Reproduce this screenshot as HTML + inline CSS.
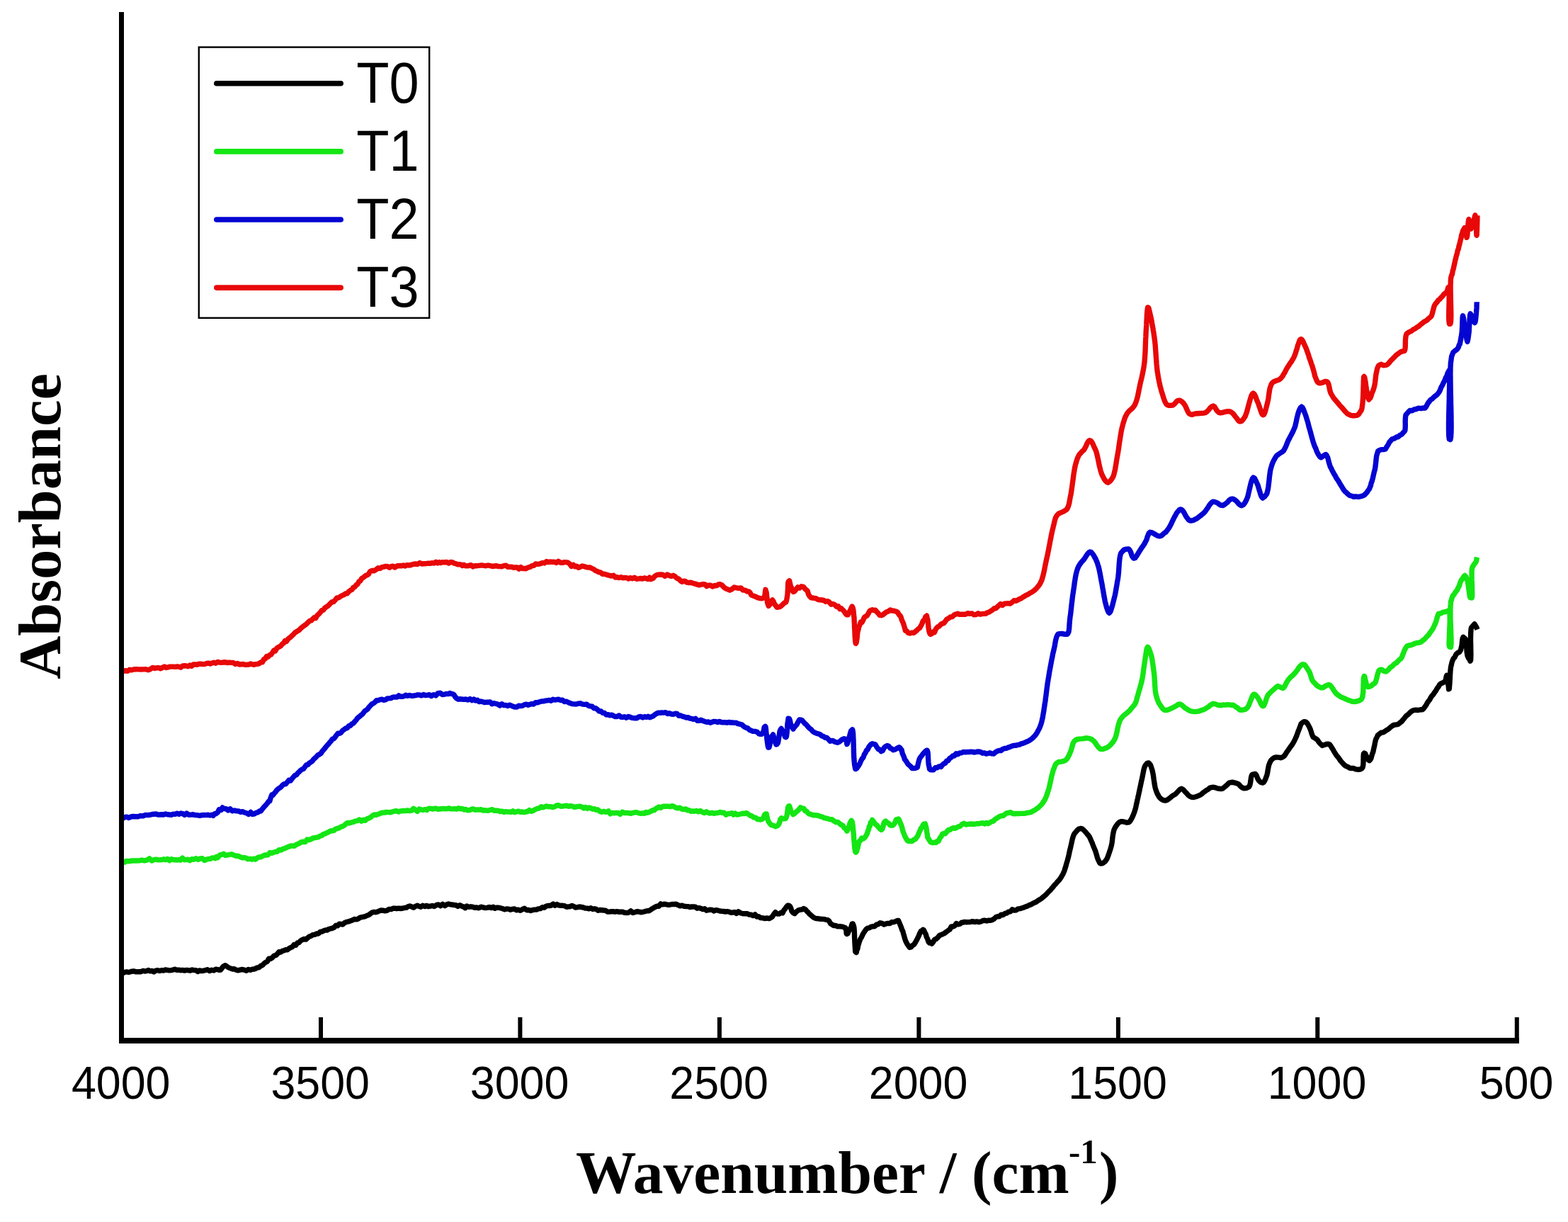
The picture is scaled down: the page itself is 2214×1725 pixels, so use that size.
<!DOCTYPE html>
<html><head><meta charset="utf-8"><title>FTIR spectra</title><style>html,body{margin:0;padding:0;background:#fff;width:2214px;height:1725px;overflow:hidden}svg{display:block}</style></head><body><svg width="2214" height="1725" viewBox="0 0 2214 1725"><rect width="2214" height="1725" fill="#ffffff"/><g fill="none" stroke-width="7.4" stroke-linejoin="round" stroke-linecap="butt"><polyline stroke="#000000" points="172.6,1374.2 173.0,1374.3 174.3,1373.1 176.2,1372.3 178.8,1371.9 181.7,1372.5 185.0,1371.5 188.5,1370.9 192.1,1371.9 195.6,1371.6 199.0,1371.7 202.1,1370.4 204.5,1371.0 207.0,1370.7 209.5,1369.5 212.1,1370.9 214.7,1370.5 217.3,1371.9 220.0,1370.1 222.7,1369.7 225.4,1370.6 228.1,1369.7 230.8,1370.1 233.5,1369.0 236.2,1369.4 238.9,1369.9 241.6,1369.6 244.2,1369.1 246.9,1368.2 249.5,1369.3 252.3,1369.1 255.0,1369.7 257.7,1369.4 260.5,1370.1 263.2,1369.4 266.0,1369.7 268.7,1370.2 271.4,1369.0 274.0,1369.6 276.6,1369.6 279.2,1371.5 281.6,1370.0 284.1,1370.5 286.4,1370.5 289.6,1369.7 292.8,1368.7 295.9,1370.5 299.0,1369.3 302.0,1370.0 304.7,1368.2 307.3,1368.6 309.6,1369.4 311.6,1369.0 315.0,1364.5 318.0,1362.7 320.3,1364.1 322.7,1365.9 325.4,1366.9 328.5,1368.1 330.7,1367.6 333.3,1369.2 336.0,1369.9 338.9,1369.1 342.0,1368.5 345.0,1369.2 348.0,1370.3 350.8,1368.4 353.5,1369.3 355.9,1368.3 358.7,1368.1 361.2,1367.0 363.5,1366.0 365.8,1365.7 368.1,1363.5 370.6,1362.6 372.8,1360.1 375.1,1358.3 377.4,1357.3 379.7,1353.1 382.1,1353.5 384.5,1351.9 386.9,1349.1 389.3,1348.7 391.7,1346.5 394.0,1343.7 396.4,1344.2 398.7,1342.4 401.1,1341.7 403.5,1340.8 405.9,1340.8 408.2,1338.8 410.5,1337.6 412.7,1336.7 415.2,1333.6 417.6,1334.3 419.9,1331.0 422.2,1330.6 424.5,1327.9 427.0,1326.5 429.6,1325.5 431.9,1326.1 434.2,1324.1 436.7,1322.1 439.2,1321.3 441.7,1319.6 444.3,1319.4 446.9,1318.0 449.6,1318.0 452.2,1315.4 454.9,1315.0 457.2,1313.7 459.6,1312.9 461.9,1313.0 464.3,1311.5 466.8,1310.9 469.2,1310.3 471.7,1309.3 474.2,1306.4 476.6,1306.9 479.1,1304.2 481.6,1304.5 484.1,1305.0 486.5,1302.6 489.2,1301.5 491.9,1300.9 494.7,1299.9 497.5,1298.9 500.3,1297.4 503.1,1297.9 505.9,1296.9 508.5,1295.2 511.1,1294.7 513.6,1294.2 515.9,1293.6 518.0,1292.4 520.8,1291.5 523.2,1289.6 525.5,1288.0 527.9,1287.4 530.7,1287.7 532.9,1287.1 535.3,1286.0 538.0,1285.0 540.7,1285.2 543.5,1285.9 546.4,1285.3 549.3,1283.4 552.2,1283.6 555.0,1282.2 557.7,1282.1 560.2,1282.7 563.0,1282.2 565.7,1282.5 568.4,1282.2 571.0,1281.5 573.6,1281.4 576.1,1279.7 578.6,1278.9 581.2,1279.9 583.9,1281.3 586.4,1279.5 589.0,1278.3 591.5,1279.3 594.2,1280.2 597.0,1278.3 600.0,1279.6 602.3,1278.4 604.9,1279.7 607.6,1279.1 610.4,1278.5 613.3,1279.5 616.3,1277.5 619.2,1277.0 622.2,1278.7 625.1,1276.4 628.0,1278.6 630.7,1276.8 633.3,1276.0 635.7,1276.8 637.9,1277.0 641.2,1277.5 643.9,1277.8 646.5,1279.5 649.3,1277.7 652.7,1279.6 654.7,1280.0 656.9,1281.7 659.3,1279.0 661.9,1280.3 664.5,1279.8 667.3,1280.2 670.2,1281.2 673.1,1281.0 676.1,1281.8 679.1,1280.2 682.1,1280.9 685.1,1281.6 688.0,1281.4 690.9,1280.5 693.6,1281.6 696.3,1280.2 698.8,1282.3 701.1,1281.2 704.3,1281.3 707.2,1281.9 710.0,1282.8 712.7,1283.9 715.4,1282.9 718.0,1283.1 720.7,1284.2 723.5,1283.4 726.4,1282.9 729.1,1284.9 731.8,1284.1 734.7,1285.3 737.6,1283.7 740.5,1282.3 743.5,1284.7 746.4,1284.5 749.3,1285.5 752.2,1284.5 754.9,1284.1 757.6,1284.0 760.1,1282.9 763.0,1282.6 765.8,1280.7 768.4,1281.2 771.0,1279.2 773.5,1278.5 776.0,1278.5 778.5,1278.0 781.1,1276.1 783.8,1278.3 786.4,1276.5 789.0,1277.9 791.7,1278.4 794.3,1278.3 797.1,1278.7 800.1,1280.3 802.5,1279.9 804.9,1279.8 807.4,1278.4 810.0,1279.4 812.7,1281.1 815.4,1280.6 818.1,1280.0 820.9,1280.5 823.6,1281.0 826.3,1282.0 829.0,1282.1 831.7,1282.8 834.3,1281.8 836.9,1283.5 839.4,1282.8 841.9,1283.4 844.5,1285.3 847.0,1284.5 849.6,1284.7 852.2,1285.0 854.8,1285.2 857.6,1287.0 860.4,1287.1 863.3,1286.8 865.7,1286.6 868.2,1287.3 870.8,1286.6 873.4,1287.2 876.2,1287.2 879.0,1287.1 881.9,1288.4 884.8,1288.5 887.7,1288.2 890.7,1285.8 893.6,1288.6 896.4,1287.7 899.2,1286.8 901.9,1287.0 904.6,1287.7 907.1,1287.5 909.5,1287.0 911.8,1286.2 913.9,1285.8 915.9,1285.9 918.8,1284.3 921.3,1282.4 923.5,1281.2 925.6,1280.1 927.7,1279.1 930.1,1279.4 932.8,1275.9 935.1,1276.9 937.5,1276.2 940.1,1276.5 942.8,1277.3 945.6,1277.3 948.5,1276.5 951.4,1276.5 954.3,1276.2 957.3,1277.5 960.2,1278.9 963.1,1278.1 965.9,1279.2 968.6,1279.5 971.3,1279.6 974.0,1280.5 976.6,1280.0 979.3,1280.0 981.9,1280.2 984.5,1282.2 987.1,1281.7 989.7,1282.3 992.3,1283.6 995.0,1282.8 997.6,1285.2 1000.2,1284.7 1002.8,1284.1 1005.5,1284.4 1008.2,1286.0 1011.0,1284.6 1013.7,1285.2 1016.4,1286.0 1019.1,1286.4 1021.7,1286.5 1024.4,1287.0 1026.9,1286.7 1029.4,1287.1 1031.8,1288.3 1034.6,1288.1 1037.3,1287.5 1039.9,1289.4 1042.5,1286.8 1045.0,1288.6 1047.5,1289.3 1050.0,1289.8 1052.6,1289.6 1055.3,1289.8 1058.0,1291.1 1060.7,1291.3 1063.4,1292.6 1066.1,1290.9 1068.7,1294.0 1071.2,1293.7 1073.7,1295.5 1076.9,1295.9 1080.1,1296.5 1083.2,1296.0 1086.0,1296.7 1088.4,1295.5 1090.8,1293.7 1092.7,1290.4 1094.8,1287.7 1097.4,1290.0 1100.4,1290.0 1103.2,1288.0 1105.1,1288.8 1106.9,1284.8 1108.7,1282.9 1110.5,1280.0 1112.2,1278.2 1113.7,1278.1 1115.3,1279.2 1116.6,1281.7 1118.0,1286.3 1120.0,1288.7 1122.0,1289.7 1124.4,1287.1 1127.0,1285.1 1129.7,1284.2 1132.3,1283.9 1134.8,1282.5 1137.0,1283.5 1139.0,1286.1 1141.0,1287.8 1143.1,1290.3 1145.1,1291.9 1147.2,1293.8 1149.5,1295.6 1152.2,1296.5 1155.1,1296.7 1158.1,1297.3 1161.1,1297.4 1163.9,1297.6 1166.4,1298.3 1168.7,1298.6 1170.7,1300.2 1172.6,1303.6 1174.6,1304.9 1176.9,1306.5 1179.6,1306.5 1182.7,1307.7 1186.0,1307.8 1189.1,1308.1 1191.8,1309.0 1193.7,1309.5 1194.9,1313.7 1195.2,1318.1 1195.9,1318.5 1197.0,1318.0 1198.4,1314.4 1200.0,1312.0 1201.6,1309.3 1203.1,1304.2 1204.3,1304.0 1204.9,1305.9 1205.3,1306.6 1205.7,1308.7 1206.0,1309.9 1206.3,1314.7 1206.5,1319.2 1206.6,1323.5 1206.8,1326.9 1206.9,1329.8 1207.1,1333.4 1207.3,1335.9 1207.5,1339.3 1207.7,1343.1 1208.1,1343.7 1208.5,1343.3 1209.2,1344.6 1210.0,1340.4 1210.8,1339.6 1211.6,1335.0 1212.6,1331.9 1213.6,1328.7 1214.8,1325.5 1216.2,1323.5 1217.8,1319.9 1219.4,1317.0 1221.2,1314.3 1223.2,1311.5 1225.3,1310.1 1227.5,1309.8 1229.8,1308.4 1232.2,1307.7 1234.8,1307.7 1237.4,1305.4 1240.1,1304.6 1242.7,1302.8 1245.5,1303.3 1248.3,1305.1 1251.2,1303.9 1254.0,1303.4 1256.6,1303.6 1259.0,1301.8 1262.6,1301.5 1265.8,1300.0 1268.5,1299.5 1270.2,1303.4 1271.4,1306.4 1272.5,1309.0 1273.8,1313.0 1274.7,1314.2 1275.6,1318.0 1276.6,1321.2 1277.6,1325.0 1278.7,1328.1 1279.7,1330.3 1280.8,1332.4 1282.0,1334.1 1283.1,1335.7 1284.3,1337.4 1286.3,1336.9 1288.4,1334.6 1290.6,1333.3 1292.7,1330.0 1294.3,1327.2 1295.8,1324.1 1297.3,1321.1 1298.8,1317.2 1300.3,1314.5 1301.8,1313.6 1303.3,1312.3 1304.6,1313.3 1305.9,1316.5 1307.1,1318.4 1308.4,1322.9 1309.7,1325.3 1311.0,1329.5 1312.3,1330.9 1313.8,1330.3 1315.7,1332.2 1317.7,1329.7 1319.7,1326.2 1321.9,1325.4 1324.3,1323.3 1326.3,1320.7 1328.6,1319.6 1331.0,1318.7 1333.5,1317.5 1336.1,1315.5 1338.6,1313.8 1341.0,1312.1 1343.3,1307.9 1345.4,1308.0 1348.0,1307.0 1350.3,1303.5 1352.8,1304.9 1355.9,1303.9 1357.8,1302.2 1359.9,1302.1 1362.2,1301.4 1364.7,1301.8 1367.4,1301.6 1370.2,1301.5 1373.1,1300.6 1376.1,1301.5 1379.1,1300.9 1382.1,1301.7 1385.0,1301.0 1387.9,1299.5 1390.7,1299.2 1393.3,1300.0 1395.7,1299.2 1398.0,1299.4 1401.0,1298.7 1403.8,1297.0 1406.3,1294.5 1408.8,1293.7 1411.2,1293.7 1413.7,1291.2 1416.3,1291.5 1419.1,1289.4 1421.5,1289.0 1424.1,1287.1 1426.7,1286.8 1429.4,1283.8 1432.2,1285.1 1434.9,1284.8 1437.7,1282.9 1440.5,1282.6 1443.2,1281.8 1445.8,1280.9 1448.3,1279.8 1450.7,1279.1 1453.3,1277.6 1455.8,1276.9 1458.3,1275.3 1460.7,1274.2 1463.0,1273.3 1465.3,1271.6 1467.5,1270.1 1469.7,1269.0 1471.8,1267.2 1473.9,1265.5 1475.9,1263.8 1477.9,1261.8 1479.8,1259.8 1481.7,1257.8 1483.5,1256.2 1485.2,1253.8 1486.9,1252.1 1488.6,1249.7 1490.7,1247.8 1492.7,1245.3 1494.6,1243.2 1496.4,1241.2 1498.1,1238.7 1499.7,1235.8 1500.9,1233.8 1502.0,1231.3 1503.0,1228.9 1503.9,1225.9 1504.7,1223.3 1505.5,1220.6 1506.3,1217.6 1507.1,1215.2 1507.8,1212.4 1508.5,1210.0 1509.1,1207.2 1509.7,1204.6 1510.3,1201.5 1510.9,1199.3 1511.5,1196.7 1512.1,1194.0 1512.8,1191.0 1513.5,1187.8 1514.1,1185.0 1514.9,1182.1 1515.8,1179.4 1517.0,1176.9 1518.9,1174.7 1521.0,1172.1 1523.4,1170.0 1525.7,1169.5 1527.9,1169.8 1530.2,1171.8 1532.5,1174.2 1534.8,1177.0 1536.8,1179.3 1538.3,1181.3 1539.6,1184.1 1540.8,1187.0 1542.0,1189.5 1543.1,1192.5 1544.2,1195.3 1545.4,1198.2 1546.5,1200.8 1547.5,1203.7 1548.5,1207.2 1549.5,1210.8 1550.5,1213.3 1551.6,1215.6 1552.8,1218.2 1554.0,1219.0 1557.1,1218.5 1560.2,1216.3 1561.5,1214.5 1562.7,1212.9 1563.9,1210.3 1565.0,1207.3 1566.0,1204.4 1567.0,1201.4 1567.9,1198.6 1568.8,1195.5 1569.4,1193.2 1570.0,1190.1 1570.4,1187.4 1570.7,1184.6 1571.0,1181.7 1571.4,1179.0 1571.8,1176.6 1572.3,1174.1 1573.0,1171.3 1573.8,1169.7 1575.2,1166.9 1576.8,1164.8 1578.5,1162.4 1580.4,1160.7 1582.4,1159.8 1585.1,1159.7 1588.0,1160.3 1591.0,1161.2 1593.5,1160.9 1595.4,1159.5 1597.0,1157.0 1598.4,1154.4 1599.7,1151.6 1600.9,1148.6 1601.8,1146.2 1602.6,1143.5 1603.3,1141.4 1604.0,1138.3 1604.6,1135.3 1605.2,1132.9 1605.8,1129.9 1606.5,1127.0 1607.1,1124.1 1607.7,1121.5 1608.3,1118.6 1608.9,1116.1 1609.4,1113.4 1610.0,1110.7 1610.6,1108.0 1611.2,1105.1 1611.7,1102.5 1612.3,1100.1 1612.8,1097.7 1613.3,1095.3 1614.0,1091.7 1614.6,1088.5 1615.2,1085.7 1616.0,1082.9 1617.0,1080.8 1619.4,1077.6 1621.9,1076.9 1623.3,1078.3 1624.6,1080.2 1625.7,1083.4 1626.8,1086.6 1627.4,1089.3 1627.9,1091.6 1628.4,1094.2 1628.8,1097.3 1629.2,1100.3 1629.7,1103.5 1630.1,1106.5 1630.6,1109.2 1631.1,1111.7 1631.8,1114.1 1632.8,1117.1 1633.9,1120.0 1635.1,1122.0 1636.4,1124.6 1637.9,1126.4 1640.2,1128.3 1642.7,1129.6 1645.3,1130.1 1647.8,1129.4 1650.4,1127.6 1652.9,1125.6 1655.2,1123.7 1657.7,1122.2 1660.0,1120.8 1661.9,1118.7 1664.0,1116.5 1666.1,1114.3 1668.2,1113.3 1670.7,1114.5 1673.1,1117.4 1675.6,1119.9 1677.9,1122.6 1680.3,1124.4 1682.9,1125.4 1685.5,1125.5 1688.4,1124.7 1691.3,1123.7 1693.9,1122.6 1696.5,1121.1 1698.7,1119.0 1701.2,1117.3 1703.5,1115.6 1706.0,1114.1 1708.6,1112.0 1711.3,1111.4 1713.7,1111.3 1716.3,1111.8 1718.9,1112.9 1721.5,1113.3 1724.1,1113.6 1726.4,1113.1 1728.8,1111.2 1731.1,1109.3 1733.4,1107.2 1735.6,1105.0 1737.8,1104.5 1741.0,1104.3 1744.0,1105.1 1747.0,1106.0 1749.4,1107.3 1751.7,1110.1 1753.9,1111.8 1756.2,1112.7 1760.1,1112.5 1763.5,1110.8 1764.7,1108.5 1765.4,1105.7 1766.0,1101.9 1766.4,1098.3 1767.1,1095.2 1768.1,1093.4 1772.6,1092.5 1774.2,1094.7 1775.6,1098.6 1777.2,1101.6 1779.9,1104.2 1782.7,1105.1 1784.2,1104.4 1785.7,1102.2 1787.0,1099.3 1788.2,1095.9 1789.0,1093.7 1789.6,1091.1 1790.1,1087.9 1790.6,1085.1 1791.2,1081.8 1791.9,1079.3 1792.8,1077.0 1794.6,1073.4 1796.7,1071.3 1799.2,1069.6 1801.9,1068.9 1805.1,1069.1 1808.3,1069.7 1811.1,1068.7 1813.2,1067.2 1815.2,1064.5 1816.9,1061.7 1818.6,1059.3 1820.3,1056.9 1821.9,1054.5 1823.4,1052.6 1824.9,1050.5 1826.3,1048.1 1827.6,1045.8 1828.8,1043.2 1829.9,1040.9 1831.0,1038.3 1832.0,1035.4 1833.0,1032.5 1834.0,1030.1 1835.1,1027.2 1836.1,1024.5 1837.2,1021.7 1838.6,1020.4 1841.3,1018.7 1844.1,1019.2 1845.9,1021.1 1847.6,1024.1 1849.1,1027.0 1850.5,1030.3 1851.5,1033.4 1852.2,1035.9 1853.0,1037.9 1854.1,1040.4 1858.5,1043.1 1860.4,1044.7 1862.5,1048.0 1864.6,1050.2 1866.9,1052.5 1869.7,1051.6 1872.6,1050.5 1875.4,1050.3 1877.1,1050.7 1878.8,1052.7 1880.4,1055.4 1882.0,1057.8 1883.6,1060.8 1885.3,1063.4 1887.0,1066.2 1888.6,1068.0 1890.3,1070.1 1892.0,1072.7 1893.7,1075.0 1895.5,1076.8 1897.2,1078.8 1899.0,1080.5 1900.8,1081.6 1903.4,1082.7 1906.0,1084.2 1908.6,1084.5 1911.3,1084.5 1914.3,1085.9 1917.6,1086.2 1920.6,1086.1 1923.0,1084.7 1924.1,1083.1 1924.7,1080.5 1925.0,1076.9 1925.1,1072.7 1925.1,1068.9 1925.2,1066.2 1925.5,1063.8 1926.2,1063.1 1927.8,1063.9 1929.8,1068.4 1931.8,1072.4 1933.6,1073.7 1934.8,1072.5 1935.9,1070.5 1936.9,1066.8 1937.8,1063.7 1938.8,1061.4 1939.6,1057.6 1940.2,1054.8 1940.8,1052.5 1941.4,1048.8 1942.1,1045.8 1943.0,1042.7 1944.0,1041.2 1945.2,1038.3 1947.5,1036.2 1950.2,1034.2 1953.1,1033.8 1955.8,1032.1 1958.4,1030.4 1961.0,1028.8 1963.6,1026.4 1966.3,1024.3 1969.0,1023.2 1971.7,1022.8 1974.4,1022.3 1976.9,1020.1 1979.2,1018.4 1981.2,1015.9 1983.2,1013.6 1985.4,1010.7 1987.4,1009.2 1989.4,1007.4 1991.5,1005.3 1993.7,1003.7 1996.0,1002.7 1999.1,1002.2 2002.4,1002.5 2005.7,1001.8 2008.6,1001.8 2010.6,999.7 2012.4,997.2 2014.0,994.8 2015.5,991.9 2017.1,989.7 2018.8,987.7 2020.5,984.2 2022.1,982.1 2023.8,980.3 2025.5,977.5 2027.3,975.3 2029.1,971.9 2030.9,969.7 2032.7,966.4 2034.5,965.0 2037.6,963.7 2040.3,961.9 2041.4,959.4 2042.1,955.2 2042.8,953.3 2043.3,954.6 2043.8,956.4 2044.3,962.1 2044.7,966.0 2045.2,968.4 2045.6,972.8 2046.0,971.9 2046.3,972.5 2046.5,970.1 2046.7,967.3 2046.9,965.6 2047.1,961.3 2047.3,959.0 2047.5,954.0 2047.7,951.0 2047.9,947.2 2048.2,944.6 2048.5,941.8 2049.2,939.0 2049.9,935.7 2051.0,932.4 2052.4,929.4 2054.0,927.9 2055.9,923.7 2058.1,921.7 2060.5,920.6 2062.5,917.6 2063.4,913.9 2064.0,911.3 2064.4,907.3 2064.8,903.4 2065.2,901.4 2066.0,899.3 2069.0,901.8 2069.7,903.0 2070.1,907.2 2070.4,909.1 2070.6,912.9 2070.9,916.3 2071.1,919.9 2071.5,922.5 2072.0,925.5 2073.3,928.7 2074.7,930.3 2076.0,933.2 2076.3,931.8 2076.6,932.0 2076.7,929.8 2076.8,927.2 2076.9,923.3 2076.8,920.4 2076.8,917.7 2076.7,914.6 2076.7,910.3 2076.6,908.6 2076.5,904.0 2076.5,900.1 2076.6,896.1 2076.7,893.3 2076.9,890.5 2077.1,888.0 2077.5,886.3 2078.0,885.5 2082.0,880.9 2084.6,885.2 2086.0,888.7"/><polyline stroke="#14E614" points="172.0,1218.7 172.3,1216.4 173.1,1217.1 174.4,1216.8 176.1,1217.2 178.3,1215.4 180.8,1215.9 183.6,1215.5 186.6,1215.0 189.8,1215.0 193.2,1215.0 196.7,1214.9 200.3,1214.2 203.9,1215.0 207.5,1214.1 211.0,1211.9 214.3,1215.0 217.5,1213.6 220.5,1213.2 223.2,1213.9 225.9,1213.8 228.7,1213.6 231.3,1212.9 234.0,1213.7 236.7,1212.4 239.3,1214.7 241.9,1212.7 244.5,1213.6 247.1,1213.8 249.7,1214.0 252.3,1213.7 254.9,1214.2 257.5,1211.1 260.1,1213.7 262.7,1213.6 265.3,1213.3 268.0,1214.7 270.8,1212.7 273.7,1213.3 276.7,1211.7 279.7,1213.4 282.8,1211.9 285.8,1211.8 288.7,1214.6 291.6,1213.2 294.4,1212.5 297.1,1212.4 299.6,1210.9 301.9,1210.9 304.0,1211.7 305.8,1209.4 307.4,1210.7 310.6,1206.9 313.7,1206.4 315.8,1205.2 318.2,1207.4 321.0,1207.0 324.0,1206.3 327.1,1205.8 330.3,1207.2 333.4,1208.3 336.3,1208.2 339.0,1209.6 342.0,1210.7 344.8,1210.7 347.5,1211.1 350.2,1212.7 352.9,1212.3 355.9,1213.2 358.2,1212.1 360.6,1213.2 363.0,1211.2 365.5,1209.9 368.0,1209.9 370.6,1208.5 373.2,1207.3 375.8,1207.0 378.5,1206.7 381.1,1203.6 383.6,1204.3 386.2,1203.4 388.8,1202.4 391.4,1202.2 394.0,1199.6 396.7,1200.1 399.4,1198.4 402.0,1197.7 404.7,1196.4 407.4,1195.3 410.1,1194.2 412.7,1193.9 415.3,1194.3 418.0,1192.5 420.6,1191.4 423.2,1190.2 425.9,1188.5 428.5,1188.3 431.1,1188.5 433.8,1185.0 436.4,1185.6 439.0,1184.8 441.7,1183.2 444.3,1182.6 446.8,1182.1 449.2,1181.8 451.7,1180.2 454.2,1179.5 456.7,1177.5 459.2,1176.9 461.7,1175.4 464.2,1174.5 466.6,1172.9 469.1,1172.8 471.4,1172.4 473.7,1170.3 476.0,1169.6 478.7,1168.8 481.4,1167.1 483.9,1166.5 486.5,1164.8 489.0,1162.5 491.4,1161.5 493.9,1161.8 496.3,1160.8 498.8,1160.4 501.6,1159.1 504.5,1158.7 507.4,1157.1 510.3,1159.2 513.0,1157.2 515.6,1158.3 518.0,1156.0 520.8,1155.0 523.1,1153.9 525.6,1151.7 528.6,1149.9 530.6,1150.5 532.8,1149.7 535.1,1149.0 537.7,1147.9 540.3,1147.1 543.0,1147.0 545.9,1146.5 548.7,1146.6 551.6,1146.8 554.5,1145.8 557.4,1145.0 560.2,1144.8 562.7,1146.0 565.3,1144.9 567.8,1144.7 570.4,1144.5 573.1,1144.5 575.7,1144.0 578.4,1144.6 581.1,1144.2 583.8,1141.3 586.5,1143.1 589.2,1145.3 591.9,1142.0 594.6,1142.9 597.3,1143.5 600.0,1142.6 602.6,1143.5 605.2,1141.4 607.8,1141.3 610.4,1142.0 613.1,1141.5 615.7,1141.1 618.3,1142.3 621.0,1142.0 623.6,1141.7 626.3,1141.4 628.9,1141.8 631.5,1141.5 634.2,1141.0 636.8,1141.9 639.5,1141.9 642.1,1141.7 644.7,1142.2 647.4,1140.9 650.0,1141.7 652.6,1141.5 655.3,1143.0 657.9,1142.5 660.5,1143.9 663.1,1143.6 665.8,1142.3 668.4,1142.0 671.0,1143.3 673.7,1142.9 676.3,1143.1 678.9,1142.6 681.6,1144.0 684.2,1143.8 686.9,1144.1 689.6,1144.2 692.3,1143.5 695.1,1142.6 697.9,1144.3 700.7,1144.2 703.4,1144.4 706.2,1145.7 708.9,1145.1 711.6,1146.4 714.3,1145.6 716.9,1146.1 719.4,1146.0 721.8,1146.3 724.2,1144.8 726.4,1146.6 729.4,1145.9 732.2,1145.1 734.9,1146.3 737.5,1146.0 740.0,1146.6 742.5,1146.0 745.0,1145.5 747.4,1143.6 750.3,1145.4 752.9,1144.3 755.6,1142.8 758.2,1141.5 761.1,1141.1 764.3,1138.8 766.6,1139.7 769.1,1138.9 771.7,1137.9 774.4,1138.8 777.2,1138.6 780.0,1139.6 782.9,1139.0 785.9,1137.0 788.8,1136.8 791.7,1138.2 794.6,1138.1 797.4,1137.6 800.1,1137.3 802.8,1138.3 805.6,1137.7 808.3,1138.1 811.0,1139.3 813.8,1139.0 816.4,1138.4 819.1,1138.3 821.7,1139.2 824.3,1140.9 826.8,1139.5 829.3,1141.4 831.7,1139.9 834.5,1140.9 837.0,1142.2 839.4,1141.8 841.8,1143.2 844.2,1142.9 846.7,1145.2 849.5,1146.2 852.7,1145.3 854.7,1146.2 856.9,1146.0 859.2,1144.9 861.7,1148.8 864.3,1147.4 867.0,1147.7 869.9,1147.5 872.7,1147.5 875.7,1149.3 878.7,1146.3 881.7,1147.5 884.7,1147.5 887.8,1147.7 890.8,1148.4 893.7,1147.3 896.6,1146.8 899.5,1146.9 902.2,1147.9 904.8,1148.2 907.4,1147.9 909.7,1148.3 912.0,1146.4 914.0,1147.3 915.9,1146.7 918.9,1145.3 921.5,1143.8 923.8,1143.8 926.0,1141.4 928.1,1140.5 930.4,1139.0 932.8,1140.4 935.3,1138.7 937.9,1138.1 940.6,1138.2 943.4,1138.3 946.1,1138.7 948.8,1137.6 951.3,1138.3 953.8,1139.9 956.9,1140.9 959.6,1140.2 962.4,1142.0 965.3,1142.5 968.6,1142.0 970.8,1143.9 973.1,1143.6 975.5,1145.4 978.1,1144.9 980.7,1145.3 983.4,1144.5 986.1,1145.9 988.9,1144.6 991.7,1146.4 994.5,1147.5 997.4,1145.8 1000.2,1147.5 1002.7,1148.1 1005.3,1147.1 1008.0,1148.3 1010.8,1147.7 1013.6,1147.4 1016.5,1146.4 1019.4,1147.3 1022.2,1147.1 1025.1,1150.1 1027.8,1148.7 1030.6,1148.5 1033.2,1147.7 1035.7,1150.1 1038.0,1148.0 1040.3,1150.1 1042.3,1149.8 1045.7,1149.0 1048.6,1148.2 1051.3,1148.5 1054.0,1147.6 1056.8,1149.5 1059.3,1151.2 1061.8,1152.1 1064.4,1153.9 1067.0,1154.3 1069.5,1156.6 1071.7,1156.5 1073.7,1157.1 1076.0,1156.3 1077.9,1154.7 1079.6,1150.1 1081.1,1149.0 1082.2,1148.9 1083.0,1153.3 1083.8,1156.1 1084.8,1159.2 1086.3,1161.6 1088.9,1164.5 1092.1,1165.4 1095.3,1166.7 1097.9,1165.6 1099.6,1163.6 1100.7,1161.1 1101.7,1157.0 1103.2,1154.8 1106.4,1155.9 1109.5,1155.5 1110.5,1153.0 1111.2,1150.4 1111.7,1146.4 1112.1,1144.2 1112.5,1140.4 1113.0,1138.8 1113.7,1138.0 1114.7,1137.8 1115.8,1141.3 1117.0,1145.5 1118.4,1147.6 1120.0,1149.7 1122.2,1148.2 1124.8,1145.6 1127.5,1143.4 1130.3,1139.9 1132.7,1141.0 1134.8,1141.1 1136.6,1144.5 1138.6,1144.9 1141.1,1148.0 1143.0,1149.1 1145.2,1149.5 1147.7,1150.7 1150.3,1150.6 1153.0,1151.0 1155.8,1151.4 1158.5,1152.7 1161.3,1153.2 1163.9,1154.7 1166.4,1155.0 1169.2,1155.8 1172.1,1156.7 1174.9,1156.8 1177.7,1159.0 1180.4,1160.6 1182.9,1160.4 1185.3,1162.3 1187.4,1164.2 1190.0,1165.4 1192.1,1168.6 1194.1,1170.1 1195.9,1173.0 1197.4,1170.6 1198.8,1167.2 1200.0,1162.1 1201.1,1160.1 1202.2,1158.3 1202.7,1159.2 1203.2,1159.8 1203.6,1162.3 1204.0,1164.2 1204.4,1168.0 1204.7,1172.5 1205.0,1173.8 1205.3,1177.7 1205.6,1182.9 1205.9,1187.0 1206.2,1189.7 1206.5,1193.9 1206.8,1196.8 1207.2,1199.4 1207.6,1202.0 1208.0,1201.7 1208.5,1203.2 1209.4,1201.9 1210.3,1198.8 1211.2,1196.2 1212.2,1191.0 1213.4,1187.3 1214.8,1186.6 1216.7,1183.1 1218.9,1184.0 1221.2,1182.2 1223.2,1179.1 1224.4,1176.7 1225.5,1172.9 1226.4,1171.3 1227.3,1166.9 1228.3,1166.2 1229.3,1161.1 1230.4,1160.5 1231.7,1157.4 1233.6,1159.9 1235.8,1163.3 1238.1,1164.9 1240.4,1167.6 1242.5,1170.0 1244.3,1171.4 1245.8,1170.3 1247.0,1166.4 1248.1,1161.4 1249.2,1160.1 1250.6,1159.1 1252.5,1161.1 1254.7,1162.1 1256.9,1164.8 1259.0,1165.4 1261.1,1164.8 1263.3,1162.2 1265.4,1156.8 1267.5,1156.4 1268.6,1156.1 1269.7,1157.8 1270.7,1160.3 1271.8,1163.4 1272.9,1165.4 1273.9,1169.0 1275.0,1173.6 1276.1,1176.3 1277.3,1179.5 1278.5,1182.1 1279.7,1184.0 1280.9,1186.2 1282.2,1187.3 1284.8,1187.3 1287.5,1187.6 1290.2,1185.5 1292.7,1184.4 1294.3,1182.0 1295.9,1180.0 1297.4,1176.0 1298.9,1172.8 1300.4,1169.1 1301.8,1168.0 1303.1,1165.1 1304.3,1163.3 1305.4,1163.2 1306.3,1162.8 1307.0,1165.4 1307.6,1167.5 1308.1,1169.7 1308.6,1174.3 1309.2,1177.3 1309.8,1182.3 1310.7,1183.3 1311.7,1185.3 1314.2,1189.0 1317.1,1189.7 1320.1,1189.0 1321.8,1189.5 1323.5,1187.4 1325.2,1187.4 1327.0,1183.1 1328.9,1181.0 1330.8,1177.1 1332.8,1176.6 1334.9,1176.7 1337.0,1173.8 1339.2,1171.7 1341.5,1171.3 1343.8,1169.6 1346.2,1168.6 1348.6,1169.4 1351.0,1168.0 1353.5,1166.8 1355.9,1166.1 1358.5,1163.5 1361.1,1162.2 1363.7,1164.0 1366.4,1163.6 1369.0,1163.2 1371.7,1163.0 1374.4,1163.5 1377.0,1163.1 1379.6,1162.7 1382.3,1162.7 1384.9,1162.1 1387.6,1161.8 1390.2,1163.0 1392.8,1161.4 1395.4,1162.7 1398.0,1161.0 1400.4,1159.6 1402.7,1159.2 1404.9,1156.6 1407.2,1155.3 1409.4,1153.7 1411.7,1152.4 1414.1,1151.6 1416.5,1151.5 1419.1,1149.4 1421.6,1147.6 1424.2,1147.5 1427.0,1146.6 1429.9,1148.5 1432.8,1148.7 1435.7,1148.4 1438.5,1148.5 1441.3,1148.4 1443.9,1148.4 1446.4,1148.3 1448.6,1147.9 1451.5,1147.2 1454.1,1146.9 1456.5,1146.2 1458.9,1144.7 1461.2,1143.7 1463.5,1141.9 1465.8,1140.3 1468.1,1138.1 1470.2,1136.1 1472.2,1133.7 1473.9,1131.0 1475.3,1128.8 1476.4,1126.5 1477.3,1124.4 1478.2,1121.7 1479.1,1119.4 1480.0,1116.2 1480.7,1114.3 1481.4,1111.6 1482.1,1108.6 1482.7,1105.7 1483.4,1102.9 1484.0,1099.9 1484.7,1096.4 1485.3,1094.1 1486.0,1091.7 1486.7,1088.9 1487.4,1086.6 1488.5,1084.1 1489.4,1081.2 1490.6,1078.9 1492.3,1077.1 1495.0,1075.5 1498.4,1075.1 1501.8,1074.4 1504.7,1073.1 1506.6,1071.2 1508.2,1068.4 1509.6,1065.9 1510.9,1062.7 1512.1,1059.9 1513.1,1056.6 1513.9,1053.8 1514.6,1050.9 1515.6,1048.3 1517.0,1046.3 1519.0,1044.5 1521.5,1043.5 1524.1,1043.1 1526.9,1042.9 1529.7,1042.6 1532.8,1042.0 1535.9,1042.0 1538.9,1042.7 1541.7,1043.8 1543.7,1045.5 1545.5,1047.2 1547.2,1049.5 1548.9,1052.3 1550.5,1054.3 1552.2,1056.1 1554.0,1057.4 1557.3,1057.5 1560.7,1056.3 1563.9,1054.8 1566.1,1053.2 1568.2,1051.3 1570.2,1049.0 1572.1,1046.6 1573.8,1043.6 1574.8,1041.5 1575.6,1039.5 1576.3,1036.6 1576.9,1034.2 1577.5,1031.3 1578.1,1028.3 1578.7,1025.5 1579.4,1022.5 1580.2,1020.2 1581.1,1017.5 1582.2,1015.4 1583.8,1013.3 1585.7,1011.0 1587.7,1009.3 1589.7,1007.6 1591.8,1006.0 1593.7,1004.2 1595.4,1002.6 1597.6,999.9 1599.5,997.7 1601.3,995.6 1602.9,993.2 1604.0,990.7 1604.8,988.0 1605.5,985.3 1606.2,982.6 1607.0,980.1 1607.7,977.3 1608.4,975.0 1609.2,972.6 1609.9,969.9 1610.7,967.0 1611.4,964.7 1612.1,961.6 1612.7,958.8 1613.2,956.2 1613.7,953.2 1614.1,950.5 1614.5,947.4 1614.9,944.3 1615.3,941.3 1615.7,938.6 1616.1,935.8 1616.5,933.0 1616.9,930.4 1617.4,927.0 1618.0,923.5 1618.5,919.9 1619.0,916.6 1619.7,914.5 1620.4,913.3 1621.6,914.4 1622.9,917.3 1624.2,921.0 1625.4,925.0 1626.0,926.7 1626.5,929.6 1627.0,932.1 1627.4,935.1 1627.8,937.4 1628.2,940.4 1628.6,943.4 1628.9,946.2 1629.3,948.7 1629.6,951.6 1629.9,954.2 1630.1,957.2 1630.3,960.1 1630.5,963.1 1630.6,965.8 1630.8,968.7 1631.0,971.5 1631.2,973.9 1631.5,976.7 1631.9,979.2 1632.4,981.3 1633.3,984.4 1634.3,987.7 1635.4,990.5 1636.7,993.2 1638.1,995.1 1640.2,998.3 1642.5,1001.3 1645.1,1002.6 1647.7,1002.4 1650.6,1001.4 1653.6,1000.1 1656.4,998.7 1659.0,997.4 1661.6,995.8 1664.0,994.2 1666.3,994.0 1668.7,995.3 1670.9,997.2 1673.3,999.5 1675.8,1000.8 1678.6,1002.6 1681.5,1003.9 1684.6,1004.4 1687.2,1004.6 1690.1,1004.4 1693.1,1003.9 1696.1,1002.7 1698.9,1002.0 1701.5,1000.7 1704.0,999.2 1706.4,997.8 1708.6,995.8 1710.7,994.3 1712.8,993.3 1716.2,993.9 1719.9,995.4 1722.0,995.5 1724.5,995.7 1727.3,994.9 1730.2,995.1 1733.1,994.8 1736.0,994.9 1738.7,995.2 1741.0,995.3 1743.6,996.8 1745.9,998.5 1748.1,999.8 1750.2,1002.0 1752.3,1002.2 1755.2,1002.1 1758.0,1001.5 1760.7,999.5 1762.1,997.8 1763.5,995.1 1764.7,991.8 1765.9,988.9 1767.1,985.7 1768.3,982.7 1769.4,981.0 1770.6,979.9 1772.5,980.7 1774.4,982.9 1776.3,985.3 1777.7,987.8 1779.2,990.6 1780.6,993.8 1782.0,996.0 1783.3,996.7 1784.5,996.1 1785.6,993.7 1786.8,990.8 1787.9,987.0 1789.1,983.8 1790.4,981.2 1792.6,978.6 1795.0,976.3 1797.4,974.2 1799.7,972.2 1802.1,969.9 1804.5,968.5 1808.1,970.2 1811.5,971.4 1813.0,970.2 1814.4,968.0 1815.7,965.3 1817.1,962.6 1818.6,960.3 1820.4,958.0 1822.3,955.9 1824.3,954.2 1826.4,952.2 1828.4,950.2 1830.3,947.7 1832.2,945.2 1834.1,942.1 1836.0,940.2 1837.9,938.4 1839.7,937.7 1842.0,938.4 1844.2,941.1 1846.3,944.5 1848.2,947.4 1849.5,949.9 1850.4,953.0 1851.3,955.6 1852.3,959.1 1853.8,961.6 1855.8,963.7 1858.2,966.4 1860.7,968.6 1863.4,970.1 1865.9,970.9 1868.6,970.5 1871.2,968.6 1873.9,967.2 1876.4,966.5 1878.3,967.4 1880.0,969.4 1881.7,971.8 1883.4,974.7 1885.2,977.1 1887.0,979.3 1889.5,981.2 1892.2,983.1 1894.8,984.6 1897.6,985.5 1900.4,986.9 1903.3,988.2 1906.2,989.0 1909.2,990.4 1912.5,990.5 1916.0,990.0 1919.2,988.9 1921.9,987.5 1922.9,986.0 1923.7,984.1 1924.3,980.1 1924.7,977.6 1924.9,972.8 1925.0,969.7 1925.1,965.4 1925.2,962.3 1925.3,958.6 1925.5,957.3 1925.8,955.5 1926.2,954.5 1926.9,955.1 1927.5,958.4 1928.3,961.8 1929.1,964.8 1930.1,968.4 1931.4,969.7 1933.5,969.3 1936.1,968.2 1938.7,965.8 1941.0,964.7 1942.3,962.5 1943.4,959.1 1944.3,955.3 1945.1,952.0 1946.0,949.1 1947.0,946.5 1948.4,945.5 1951.1,945.3 1954.1,947.4 1957.0,948.1 1959.0,946.6 1961.0,944.9 1962.9,942.2 1964.9,941.2 1966.9,939.3 1969.2,937.0 1971.5,935.9 1973.9,933.4 1976.2,931.2 1978.2,929.6 1979.6,927.2 1980.8,923.7 1981.9,921.4 1982.9,918.4 1984.0,916.2 1985.2,914.1 1986.6,912.2 1989.2,911.0 1992.0,910.7 1995.1,909.5 1997.8,908.3 2000.7,907.5 2003.6,907.1 2006.5,906.2 2009.2,903.9 2011.4,902.4 2013.4,900.0 2015.4,897.9 2017.2,896.2 2019.0,893.3 2020.6,891.3 2022.3,888.7 2023.8,886.4 2025.1,883.4 2026.4,880.6 2027.5,877.9 2028.4,874.8 2029.1,872.3 2029.8,869.9 2031.2,866.4 2034.2,865.8 2037.8,864.1 2041.1,863.6 2045.8,861.8 2046.3,862.5 2046.7,863.9 2047.0,865.8 2047.2,869.7 2047.2,870.6 2047.2,874.4 2047.2,877.8 2047.1,882.1 2046.9,885.1 2046.7,889.7 2046.6,893.6 2046.4,898.4 2046.3,901.1 2046.2,904.0 2046.1,907.0 2046.1,910.5 2046.3,911.3 2046.5,912.3 2046.8,913.1 2048.2,913.3 2048.5,913.5 2048.7,911.3 2048.9,910.2 2049.0,908.8 2049.0,906.1 2049.0,904.7 2049.0,901.4 2048.9,899.1 2048.8,896.0 2048.7,893.3 2048.6,890.1 2048.4,885.0 2048.3,881.2 2048.1,877.7 2048.0,875.1 2047.9,871.6 2047.9,867.8 2047.9,864.3 2047.9,862.0 2047.9,858.5 2048.1,855.2 2048.3,852.7 2048.5,849.0 2048.9,848.5 2049.3,847.2 2050.4,843.1 2051.7,840.4 2053.1,839.3 2054.6,836.4 2056.1,834.7 2057.6,832.8 2058.9,829.7 2060.4,827.2 2061.8,822.4 2063.3,818.8 2064.7,817.8 2066.0,815.2 2067.2,813.4 2068.3,812.4 2070.0,814.3 2071.5,818.3 2072.1,819.3 2072.6,822.7 2073.1,825.2 2073.6,830.2 2074.0,832.6 2074.5,835.8 2074.9,839.3 2075.4,841.7 2075.9,843.6 2076.5,843.6 2078.0,844.1 2078.4,843.7 2078.6,841.8 2078.7,839.7 2078.8,836.7 2078.7,834.1 2078.6,831.5 2078.5,826.4 2078.4,822.6 2078.2,818.9 2078.1,815.0 2078.1,813.1 2078.1,810.2 2078.1,806.4 2078.3,803.6 2078.6,802.3 2079.0,800.6 2082.2,795.6 2083.3,794.4 2084.4,792.6 2085.2,788.0 2085.5,786.6"/><polyline stroke="#0505D2" points="172.0,1154.1 172.3,1154.9 173.3,1153.2 174.7,1154.5 176.7,1153.4 179.0,1153.1 181.8,1154.5 184.8,1152.9 188.0,1152.5 191.5,1152.8 195.0,1152.8 198.6,1151.6 202.1,1151.8 205.6,1150.4 209.0,1150.6 212.1,1150.3 215.0,1149.5 217.7,1149.2 220.3,1149.0 223.0,1150.0 225.7,1150.0 228.4,1149.8 231.1,1150.0 233.8,1148.9 236.5,1149.8 239.2,1150.0 241.9,1150.3 244.6,1149.1 247.3,1149.4 250.0,1148.2 252.7,1149.3 255.4,1148.0 258.0,1148.6 260.7,1150.4 263.5,1148.0 266.5,1150.3 269.6,1150.1 272.7,1149.8 275.8,1150.6 279.0,1150.8 282.1,1151.4 285.2,1150.7 288.2,1150.5 291.1,1150.6 293.9,1150.3 296.5,1151.0 298.9,1150.3 301.1,1151.4 303.0,1148.8 304.7,1148.8 307.6,1146.5 309.4,1142.7 312.0,1143.6 314.1,1140.0 316.5,1141.6 319.2,1141.7 322.0,1143.9 325.0,1141.8 328.0,1144.8 331.0,1144.0 334.0,1144.9 336.7,1144.9 339.5,1146.3 342.4,1145.6 345.3,1147.0 348.2,1147.8 351.1,1149.4 354.0,1146.5 356.6,1149.5 359.2,1148.9 361.5,1147.3 364.0,1146.9 366.2,1145.0 368.3,1145.0 370.3,1142.1 372.2,1139.8 374.1,1137.7 376.0,1135.7 377.7,1133.7 379.3,1131.1 380.8,1131.1 382.3,1125.8 383.8,1122.1 385.4,1122.4 387.1,1120.0 388.9,1118.2 390.8,1115.5 392.6,1113.8 394.6,1112.4 396.7,1111.1 398.8,1108.4 401.1,1106.7 403.3,1106.8 405.6,1104.1 407.9,1101.3 410.1,1102.1 412.3,1099.3 414.4,1096.7 416.4,1094.6 418.6,1093.8 420.7,1091.1 422.8,1089.1 424.8,1087.1 426.8,1085.9 428.7,1085.3 430.7,1082.3 432.7,1079.7 434.7,1079.5 436.7,1077.2 438.7,1076.1 440.8,1074.6 442.8,1071.8 444.8,1070.1 446.8,1068.3 448.9,1065.7 450.9,1065.1 453.0,1063.6 454.8,1060.9 456.6,1058.7 458.4,1056.7 460.2,1054.3 462.0,1052.2 463.8,1050.4 465.6,1048.0 467.4,1046.2 469.3,1043.4 471.2,1042.8 473.1,1040.7 475.0,1037.9 477.1,1035.2 479.2,1035.2 481.4,1034.4 483.6,1031.3 485.8,1029.9 488.0,1028.2 490.3,1027.6 492.5,1024.8 494.6,1024.6 496.7,1021.9 498.8,1021.1 501.0,1018.5 503.1,1016.2 505.2,1013.2 507.3,1011.7 509.3,1009.9 511.4,1008.5 513.3,1006.1 515.3,1003.4 517.2,1002.4 519.0,1001.0 521.2,998.0 523.4,995.7 525.4,993.7 527.5,992.8 529.6,991.0 531.8,988.6 534.2,988.7 536.7,987.6 539.3,987.1 541.9,988.3 544.6,987.6 547.1,985.9 549.6,985.9 552.2,985.6 554.9,984.1 557.8,983.9 561.0,984.0 563.1,981.9 565.3,983.2 567.7,983.3 570.2,982.9 572.8,981.3 575.5,982.4 578.2,981.4 581.0,982.3 583.8,982.2 586.7,981.7 589.5,980.9 592.3,980.9 595.1,981.9 597.9,980.5 600.6,981.5 603.2,981.4 606.1,980.7 609.0,982.5 612.1,980.6 615.3,981.9 618.4,978.6 621.6,978.2 624.7,980.5 627.6,980.1 630.5,979.4 633.1,979.6 635.5,978.4 637.7,979.6 639.5,979.7 641.0,980.8 643.2,984.3 645.3,986.3 647.1,987.2 649.4,986.7 652.0,987.0 654.8,987.4 657.7,987.0 660.7,988.1 663.7,986.5 666.4,988.8 669.0,987.0 671.5,989.0 674.0,988.2 676.5,990.6 679.0,990.0 681.6,990.8 684.4,991.6 687.4,991.1 689.7,991.2 692.1,990.9 694.6,993.7 697.3,992.7 700.0,993.3 702.8,994.1 705.6,996.1 708.5,993.7 711.4,995.6 714.2,995.5 717.0,996.5 719.7,995.1 722.4,996.3 724.9,997.4 727.3,998.1 729.6,998.1 732.6,996.1 735.4,996.6 738.1,996.1 740.7,994.7 743.2,994.2 745.7,995.3 748.1,994.4 750.6,993.6 753.5,994.0 756.3,991.6 759.0,991.9 761.8,990.8 764.6,990.0 767.5,989.9 770.0,989.2 772.6,988.8 775.3,988.4 778.0,989.2 780.7,987.2 783.4,988.1 786.0,987.7 788.5,987.1 791.4,988.5 794.2,988.1 796.9,990.6 799.6,990.2 802.4,991.5 805.4,992.8 808.1,993.6 810.9,993.9 813.7,994.0 816.7,993.2 819.6,992.8 822.6,994.1 825.5,994.4 828.5,994.1 831.0,996.4 833.5,996.8 836.0,997.2 838.5,999.7 841.1,999.8 843.6,1001.6 846.1,1004.0 848.7,1004.0 851.1,1006.4 853.6,1006.5 856.0,1009.0 858.7,1008.6 861.2,1009.9 863.7,1009.1 866.1,1010.4 868.7,1011.6 871.3,1011.5 874.0,1010.0 877.0,1012.3 879.3,1012.4 881.8,1011.7 884.4,1013.2 887.2,1011.5 890.1,1012.4 893.0,1013.4 896.0,1013.7 899.0,1013.7 901.9,1012.0 904.8,1011.5 907.6,1013.0 910.3,1011.6 912.8,1012.4 915.1,1011.3 917.2,1012.8 919.1,1012.2 922.2,1010.8 924.6,1008.9 926.9,1007.4 929.6,1006.1 931.9,1006.2 934.3,1006.0 936.9,1006.1 939.7,1005.6 942.5,1007.6 945.3,1006.8 948.0,1008.0 950.7,1008.4 953.3,1007.3 955.9,1007.4 958.5,1010.4 961.1,1010.0 963.7,1011.3 966.3,1011.9 969.0,1013.0 971.8,1012.8 974.2,1014.2 976.7,1014.5 979.3,1015.4 981.9,1014.3 984.5,1017.2 987.2,1017.3 989.9,1016.3 992.5,1017.5 995.1,1018.4 997.6,1019.2 1000.0,1019.0 1002.8,1020.2 1005.5,1019.2 1008.1,1018.4 1010.7,1018.6 1013.3,1019.5 1015.8,1018.4 1018.4,1019.5 1021.0,1019.8 1023.6,1019.6 1026.3,1020.2 1029.0,1019.5 1031.6,1020.0 1034.3,1019.9 1036.9,1020.4 1039.5,1020.2 1042.1,1021.7 1044.8,1022.2 1047.6,1023.1 1050.3,1025.5 1053.0,1027.1 1055.7,1027.8 1058.3,1030.4 1060.8,1031.3 1063.2,1032.4 1066.0,1032.4 1068.9,1033.1 1071.5,1035.8 1073.9,1036.3 1075.8,1036.3 1077.4,1033.9 1078.4,1031.0 1079.2,1026.5 1080.0,1025.8 1080.6,1025.4 1081.1,1026.3 1081.6,1030.6 1082.0,1035.7 1082.5,1037.3 1082.9,1043.4 1083.3,1046.1 1083.8,1049.9 1084.3,1053.2 1084.8,1055.2 1085.3,1055.1 1086.0,1054.9 1086.7,1052.4 1087.4,1049.1 1088.2,1043.9 1088.9,1041.9 1089.7,1039.4 1090.6,1038.7 1091.6,1037.0 1092.6,1040.8 1093.7,1042.9 1094.8,1048.1 1095.9,1051.0 1096.9,1050.7 1097.7,1049.6 1098.4,1048.8 1099.0,1046.0 1099.7,1041.3 1100.3,1037.9 1101.0,1032.6 1101.7,1030.9 1102.4,1029.4 1103.2,1028.5 1104.4,1030.9 1105.8,1032.0 1107.1,1035.0 1108.4,1040.2 1109.5,1040.7 1110.1,1040.5 1110.6,1038.7 1111.0,1035.5 1111.3,1032.5 1111.6,1028.4 1111.9,1022.1 1112.3,1019.6 1112.6,1018.1 1113.1,1014.2 1113.7,1014.4 1114.5,1014.6 1115.4,1017.0 1116.4,1022.0 1117.5,1025.1 1118.7,1027.0 1120.0,1029.1 1121.5,1026.6 1123.2,1024.8 1124.9,1023.0 1126.8,1019.3 1128.7,1016.0 1130.6,1016.1 1132.6,1016.7 1134.6,1019.2 1136.6,1021.4 1138.8,1023.3 1140.9,1025.9 1143.2,1028.3 1145.5,1029.9 1147.8,1032.6 1150.3,1034.1 1152.8,1035.2 1155.3,1035.8 1158.0,1036.7 1160.2,1038.8 1162.5,1039.3 1164.8,1041.2 1167.2,1041.2 1169.7,1043.6 1172.1,1046.2 1174.5,1045.5 1176.8,1045.9 1179.0,1047.3 1182.3,1048.3 1185.7,1046.8 1189.0,1043.9 1191.8,1042.8 1193.8,1043.1 1195.2,1046.6 1195.9,1050.6 1196.6,1049.5 1197.5,1046.2 1198.4,1043.4 1199.4,1039.8 1200.5,1035.4 1201.5,1031.9 1202.4,1031.0 1203.2,1030.9 1203.6,1029.7 1203.9,1030.7 1204.2,1033.0 1204.5,1034.7 1204.7,1036.9 1204.8,1041.6 1205.0,1043.1 1205.1,1047.0 1205.2,1050.8 1205.3,1054.5 1205.4,1058.9 1205.5,1063.5 1205.7,1067.9 1205.9,1071.0 1206.1,1073.9 1206.3,1076.0 1206.6,1079.6 1207.0,1081.2 1207.4,1083.6 1207.9,1085.5 1208.5,1085.5 1209.7,1084.7 1211.1,1082.7 1212.5,1080.7 1214.1,1077.8 1215.7,1073.8 1217.4,1070.9 1219.0,1069.2 1220.5,1064.7 1222.0,1062.7 1223.6,1059.1 1225.1,1058.1 1226.7,1054.6 1228.3,1052.3 1230.0,1050.6 1231.7,1049.7 1233.7,1050.3 1235.9,1050.8 1238.1,1054.7 1240.2,1057.6 1242.3,1058.1 1244.3,1060.6 1246.5,1059.4 1248.6,1055.2 1250.6,1053.5 1252.7,1052.5 1254.8,1053.2 1256.9,1056.0 1259.0,1056.9 1261.2,1058.8 1264.0,1058.0 1266.9,1056.1 1269.6,1054.8 1270.9,1055.6 1272.1,1058.1 1273.1,1058.5 1274.2,1063.6 1275.2,1065.8 1276.3,1068.2 1277.4,1071.8 1278.7,1073.4 1280.1,1075.4 1282.5,1079.2 1285.2,1081.3 1288.0,1084.5 1290.6,1084.5 1292.8,1084.3 1294.2,1083.5 1295.3,1083.3 1296.2,1079.3 1297.0,1075.7 1297.9,1072.4 1299.1,1069.8 1300.8,1067.6 1302.8,1064.8 1304.9,1062.5 1306.9,1060.4 1308.5,1059.2 1309.3,1059.4 1309.9,1061.3 1310.2,1063.1 1310.5,1067.5 1310.7,1072.4 1310.9,1075.6 1311.3,1079.8 1311.8,1081.6 1312.6,1085.7 1313.8,1086.6 1315.7,1086.9 1318.0,1086.8 1320.6,1083.8 1323.3,1083.7 1326.0,1081.9 1328.6,1082.5 1330.7,1079.7 1332.7,1077.9 1334.7,1077.2 1336.8,1073.9 1338.8,1073.9 1340.9,1070.4 1343.1,1069.2 1345.3,1067.0 1347.5,1067.0 1350.0,1063.7 1352.5,1064.8 1355.0,1062.9 1357.6,1062.9 1360.2,1061.4 1362.9,1061.9 1365.7,1061.5 1368.6,1061.5 1371.0,1061.2 1373.6,1061.5 1376.2,1062.0 1378.9,1061.3 1381.7,1061.0 1384.4,1061.4 1387.2,1063.2 1389.9,1062.8 1392.6,1064.1 1395.3,1063.5 1397.8,1062.7 1400.2,1063.9 1403.0,1064.1 1405.7,1061.8 1408.3,1060.3 1410.8,1059.4 1413.3,1059.6 1415.9,1057.4 1418.5,1056.5 1421.2,1056.3 1423.6,1055.1 1426.1,1054.4 1428.7,1053.2 1431.4,1052.4 1434.1,1052.3 1436.8,1051.6 1439.4,1051.2 1441.9,1049.9 1444.3,1049.3 1446.6,1048.5 1448.6,1047.5 1451.3,1046.3 1453.8,1045.1 1456.0,1043.5 1458.1,1041.9 1460.1,1039.8 1461.7,1038.1 1463.2,1036.0 1464.7,1033.6 1466.0,1031.0 1467.3,1028.7 1468.4,1026.3 1469.5,1023.2 1470.3,1020.9 1470.9,1018.6 1471.5,1015.9 1472.1,1013.5 1472.6,1010.7 1473.0,1008.1 1473.5,1005.6 1473.9,1002.9 1474.3,1000.1 1474.7,997.4 1475.1,994.9 1475.5,991.9 1476.0,989.4 1476.3,986.4 1476.7,983.6 1477.1,980.9 1477.4,978.1 1477.8,974.9 1478.1,972.3 1478.5,969.6 1478.9,966.5 1479.3,963.4 1479.8,961.0 1480.2,958.1 1480.7,955.3 1481.2,952.4 1481.6,949.6 1482.1,946.8 1482.6,944.2 1483.1,941.3 1483.6,938.6 1484.2,935.5 1484.7,932.9 1485.3,929.8 1485.9,927.2 1486.4,923.9 1487.0,921.5 1487.7,918.7 1488.3,915.9 1488.9,913.4 1489.5,910.2 1490.0,907.0 1490.6,903.9 1491.2,901.5 1492.0,898.8 1492.9,896.8 1493.9,895.2 1496.5,894.6 1499.5,894.5 1503.5,895.3 1507.1,895.3 1508.1,893.7 1508.9,892.1 1509.4,889.2 1509.7,886.5 1509.9,882.9 1510.2,879.4 1510.4,876.2 1510.8,872.8 1511.1,870.2 1511.5,867.9 1511.8,865.5 1512.1,862.7 1512.4,859.8 1512.7,857.2 1513.0,854.3 1513.3,851.6 1513.7,848.9 1514.0,846.1 1514.3,843.3 1514.7,840.2 1515.1,837.9 1515.5,835.2 1515.9,832.4 1516.3,829.7 1516.7,827.2 1517.1,823.8 1517.5,820.9 1517.9,818.6 1518.4,815.5 1518.8,813.2 1519.4,810.2 1520.0,807.8 1520.6,805.7 1521.3,803.5 1522.1,801.4 1523.4,798.7 1525.0,796.2 1526.6,794.0 1528.3,792.1 1529.9,790.4 1531.5,788.3 1533.4,785.3 1535.3,782.3 1537.2,780.0 1539.0,779.0 1540.9,779.6 1542.8,781.8 1544.6,784.5 1545.9,787.0 1547.1,789.0 1548.2,791.9 1549.3,794.3 1550.3,797.8 1551.0,799.6 1551.6,802.0 1552.2,804.6 1552.7,807.3 1553.3,810.1 1553.8,812.9 1554.3,815.6 1554.8,818.3 1555.4,821.6 1555.9,824.0 1556.4,826.7 1556.9,829.8 1557.4,832.5 1557.9,835.4 1558.4,838.3 1558.9,841.6 1559.4,843.9 1559.9,846.7 1560.4,849.4 1561.0,851.5 1561.6,853.9 1562.7,858.0 1563.9,861.3 1565.1,864.2 1566.3,865.3 1567.2,864.3 1568.2,862.7 1569.1,859.9 1570.1,856.6 1571.1,853.2 1572.0,849.7 1572.8,846.3 1573.4,843.8 1574.0,841.6 1574.6,839.1 1575.1,836.3 1575.6,833.4 1576.1,830.5 1576.6,827.7 1577.1,824.8 1577.5,822.2 1578.0,819.4 1578.5,816.6 1578.9,813.7 1579.2,810.8 1579.5,807.9 1579.7,804.8 1579.9,801.8 1580.1,798.8 1580.3,795.3 1580.6,792.7 1580.9,789.1 1581.3,786.4 1581.8,784.0 1582.4,781.9 1583.2,780.2 1584.1,779.2 1587.0,776.1 1590.4,775.1 1593.5,774.9 1595.3,776.8 1596.8,779.9 1598.1,784.2 1599.5,786.8 1601.0,788.1 1602.8,787.7 1604.7,784.9 1606.6,781.9 1608.5,778.8 1610.1,776.4 1611.7,773.8 1613.4,771.5 1615.0,769.2 1616.6,766.4 1618.0,763.8 1619.2,761.2 1620.1,757.8 1621.1,755.3 1622.2,752.8 1623.8,751.3 1626.0,751.6 1628.8,753.0 1631.7,754.7 1634.6,756.4 1637.3,757.0 1639.6,756.4 1641.7,754.7 1643.8,752.6 1645.9,751.3 1648.1,748.6 1649.5,746.8 1650.9,744.7 1652.4,741.9 1653.8,739.3 1655.3,735.9 1656.8,733.0 1658.3,729.8 1659.8,727.4 1661.2,724.5 1662.7,722.6 1664.2,720.9 1665.6,719.3 1667.0,719.0 1668.7,719.7 1670.3,721.2 1671.9,723.6 1673.5,726.7 1675.1,729.6 1676.8,731.9 1678.6,734.0 1680.5,735.1 1682.7,735.0 1685.0,734.4 1687.5,733.0 1690.0,732.0 1692.5,729.9 1695.0,728.1 1697.3,726.1 1699.5,724.3 1701.4,722.4 1703.2,719.9 1704.8,717.6 1706.4,715.2 1707.9,712.7 1709.5,710.7 1711.2,709.1 1713.0,708.1 1715.6,708.6 1718.3,709.6 1721.1,711.6 1723.8,713.2 1726.5,713.6 1728.8,712.4 1731.1,710.6 1733.3,708.8 1735.6,706.1 1737.8,704.6 1740.0,704.1 1742.3,704.8 1744.6,706.3 1747.0,708.7 1749.2,711.4 1751.3,713.1 1753.2,713.8 1755.7,712.5 1757.8,709.8 1759.8,706.0 1760.7,703.9 1761.6,701.7 1762.5,698.3 1763.3,694.8 1764.1,691.1 1764.9,688.0 1765.7,684.2 1766.5,681.1 1767.3,678.6 1768.1,676.4 1768.9,675.0 1769.7,674.1 1771.5,675.2 1773.4,679.0 1775.2,683.0 1776.2,685.3 1777.1,688.5 1778.0,691.5 1779.0,694.5 1779.9,697.8 1780.9,700.3 1781.9,702.0 1782.9,703.1 1785.7,701.1 1788.4,697.6 1789.1,696.0 1789.6,693.6 1790.1,691.7 1790.6,689.2 1791.0,686.4 1791.3,683.6 1791.7,680.6 1792.0,677.8 1792.3,674.6 1792.7,671.3 1793.0,669.0 1793.4,666.2 1793.9,663.2 1794.4,661.2 1795.0,659.3 1796.1,655.5 1797.2,652.8 1798.4,650.2 1799.7,647.9 1801.1,645.5 1802.6,643.2 1804.9,641.6 1807.6,639.6 1810.2,638.1 1812.5,636.2 1813.9,633.6 1815.0,631.5 1816.0,629.3 1817.0,626.6 1818.0,624.1 1819.1,621.5 1820.3,619.6 1821.6,616.8 1823.0,614.3 1824.3,611.8 1825.6,609.3 1826.8,606.4 1827.9,604.0 1828.8,601.5 1829.5,598.2 1830.2,595.5 1830.8,592.4 1831.4,589.4 1832.0,587.2 1832.7,584.3 1833.4,582.1 1834.8,578.4 1836.3,575.5 1837.8,574.2 1839.2,575.4 1840.6,578.2 1842.0,582.2 1843.3,585.5 1844.1,587.8 1844.8,590.1 1845.6,592.9 1846.3,594.9 1847.0,597.5 1847.7,600.5 1848.4,603.2 1849.2,605.8 1849.9,608.3 1850.7,611.3 1851.5,614.3 1852.2,616.9 1853.0,619.6 1853.8,622.7 1854.6,625.1 1855.5,627.7 1856.5,630.4 1857.8,633.0 1859.2,637.0 1860.6,639.9 1862.2,642.7 1863.7,644.8 1865.3,645.8 1867.5,644.4 1869.8,642.6 1871.9,641.4 1873.0,642.3 1874.0,644.7 1874.9,646.5 1875.7,649.9 1876.5,653.0 1877.4,655.8 1878.5,659.3 1879.7,661.1 1880.9,663.9 1882.2,666.3 1883.6,668.9 1885.1,671.2 1886.5,674.1 1888.0,676.3 1889.5,678.5 1891.0,681.0 1892.6,683.9 1894.2,686.3 1895.9,689.2 1897.5,691.7 1899.2,693.8 1900.9,695.2 1902.6,696.9 1905.4,699.3 1908.3,700.0 1911.4,701.4 1913.9,700.8 1916.7,701.2 1919.5,701.2 1922.2,700.5 1924.6,699.7 1926.7,698.6 1928.6,696.6 1930.3,694.7 1931.9,692.1 1933.4,690.4 1934.4,687.7 1935.4,685.6 1936.2,681.8 1937.0,680.0 1937.8,677.1 1938.5,674.6 1939.1,671.6 1939.8,668.5 1940.4,665.9 1941.1,663.6 1941.7,660.8 1942.2,657.1 1942.5,654.4 1942.9,650.5 1943.2,647.7 1943.6,644.1 1944.1,642.0 1944.8,640.0 1945.6,637.1 1946.6,636.2 1950.3,634.6 1954.3,634.5 1956.2,634.0 1958.1,630.6 1959.9,628.0 1961.7,624.3 1963.5,622.3 1965.3,620.1 1968.7,619.0 1972.2,616.8 1974.3,616.7 1976.7,614.3 1979.0,613.4 1981.2,610.8 1982.9,609.3 1983.8,607.7 1984.2,604.5 1984.3,601.1 1984.3,598.4 1984.2,595.3 1984.3,591.9 1984.5,589.1 1985.0,585.6 1986.0,584.6 1988.1,582.1 1990.8,579.5 1993.8,579.7 1996.8,578.0 1999.7,577.5 2002.9,576.1 2006.2,576.6 2009.4,576.0 2012.0,576.1 2013.8,573.9 2015.1,571.3 2016.4,568.9 2018.0,567.0 2019.8,564.5 2021.9,563.3 2024.2,561.0 2026.4,559.1 2028.5,557.7 2030.3,555.8 2031.8,553.7 2033.1,551.5 2034.2,548.5 2035.3,545.9 2036.4,544.2 2037.6,541.6 2038.9,538.9 2040.2,536.7 2041.4,532.9 2042.5,531.7 2043.8,527.6 2044.9,525.1 2045.8,524.5 2046.0,523.2 2046.2,525.5 2046.4,525.6 2046.5,527.2 2046.6,528.8 2046.6,531.5 2046.7,533.0 2046.7,534.7 2046.7,539.0 2046.7,541.7 2046.6,545.4 2046.6,548.8 2046.5,551.2 2046.4,555.7 2046.3,559.4 2046.3,563.2 2046.2,567.1 2046.1,571.2 2046.0,574.6 2045.9,578.7 2045.8,583.3 2045.7,585.9 2045.6,590.2 2045.6,593.2 2045.5,596.6 2045.5,600.3 2045.5,603.8 2045.5,607.6 2045.6,609.2 2045.6,612.4 2045.7,614.3 2045.8,615.9 2046.0,615.6 2046.1,618.7 2046.3,619.6 2046.6,619.4 2047.8,620.1 2048.0,620.5 2048.2,618.3 2048.4,617.7 2048.6,617.4 2048.7,614.3 2048.8,613.1 2048.9,612.1 2049.0,610.4 2049.0,608.3 2049.1,605.6 2049.1,604.0 2049.1,600.1 2049.1,596.2 2049.0,593.9 2049.0,591.2 2049.0,587.9 2048.9,583.2 2048.8,581.2 2048.8,577.0 2048.7,573.9 2048.6,571.4 2048.5,566.8 2048.5,563.0 2048.4,559.7 2048.3,555.9 2048.2,554.0 2048.2,549.7 2048.1,546.4 2048.1,542.0 2048.0,538.7 2048.0,536.1 2048.0,531.5 2047.9,530.4 2047.9,526.2 2048.0,524.3 2048.0,521.8 2048.0,518.7 2048.1,517.2 2048.2,515.3 2048.3,514.2 2048.4,511.6 2048.6,511.1 2049.2,506.3 2049.7,502.9 2050.5,501.0 2051.7,497.7 2053.4,496.0 2055.4,494.5 2057.5,493.0 2059.3,490.2 2060.3,486.8 2061.2,485.9 2061.9,482.4 2062.6,479.1 2063.1,475.7 2063.6,473.4 2064.0,470.2 2064.3,467.6 2064.5,463.8 2064.7,461.3 2064.8,456.7 2064.9,453.8 2065.0,450.7 2065.1,448.8 2065.3,446.2 2065.5,445.8 2065.9,446.8 2066.4,449.0 2066.9,452.4 2067.4,455.8 2068.0,460.4 2068.5,463.7 2069.0,465.6 2069.5,470.3 2070.0,472.8 2070.6,476.3 2071.1,479.3 2071.6,481.4 2072.0,482.3 2072.6,479.6 2073.1,477.0 2073.5,474.0 2074.0,469.9 2074.2,468.8 2074.4,464.3 2074.6,460.6 2074.8,458.2 2075.0,452.3 2075.1,449.4 2075.3,449.2 2075.6,444.8 2075.9,443.6 2076.2,442.9 2077.0,444.3 2077.9,448.6 2079.0,451.2 2082.3,455.6 2082.9,454.6 2083.4,452.6 2083.8,448.8 2084.2,444.7 2084.5,441.8 2084.8,437.6 2085.0,434.7 2085.1,430.2 2085.2,427.9 2085.3,426.7 2085.3,426.3"/><polyline stroke="#E80808" points="172.0,946.8 172.3,947.1 173.0,946.4 174.3,946.9 175.9,947.2 177.9,946.7 180.2,947.4 182.9,945.3 185.7,945.8 188.8,945.0 192.1,944.7 195.4,944.9 198.9,945.0 202.3,944.9 205.8,944.7 209.2,945.7 212.5,944.5 215.7,942.4 218.7,943.5 221.5,942.7 224.0,942.6 226.8,943.8 229.5,942.4 232.2,941.0 234.8,942.5 237.4,941.9 239.9,941.1 242.4,941.1 244.9,941.1 247.5,941.4 250.0,940.9 252.6,941.1 255.2,942.2 257.9,940.0 260.7,939.8 263.1,940.0 265.6,940.7 268.1,939.1 270.6,940.4 273.1,938.0 275.7,937.9 278.3,938.3 280.9,937.3 283.5,937.1 286.1,937.6 288.7,937.5 291.4,936.7 294.0,936.1 296.7,937.0 299.4,936.0 302.0,935.3 304.7,936.2 307.4,934.4 310.0,935.1 312.6,935.4 315.3,935.0 318.1,934.7 320.9,935.6 323.7,935.1 326.6,935.4 329.4,935.4 332.3,937.5 335.2,936.4 338.0,938.0 340.8,937.7 343.6,937.5 346.3,938.4 348.9,938.2 351.5,938.1 354.0,937.0 356.4,937.9 358.7,938.3 360.9,937.6 363.0,937.4 365.7,936.8 368.2,934.9 370.5,934.7 372.6,930.6 374.6,929.9 376.6,926.5 378.6,927.2 380.6,924.8 382.7,924.1 385.0,920.7 386.8,918.0 388.7,918.9 390.6,915.4 392.5,913.8 394.5,912.9 396.5,911.8 398.5,909.1 400.5,907.9 402.5,904.5 404.5,905.4 406.5,902.3 408.5,900.6 410.5,899.2 412.5,897.2 414.4,895.5 416.4,893.0 418.5,891.9 420.6,890.5 422.8,889.2 424.9,886.7 427.0,885.1 429.1,883.6 431.2,882.1 433.4,880.2 435.4,878.2 437.5,876.3 439.6,875.9 441.7,873.6 443.7,871.7 445.7,872.6 447.9,868.8 450.0,866.9 452.2,864.5 454.3,861.7 456.4,861.4 458.4,858.5 460.5,856.8 462.6,855.7 464.7,853.8 466.8,851.5 468.9,849.6 471.0,849.6 473.4,846.8 475.8,844.0 478.1,843.9 480.5,842.1 483.0,840.6 485.4,839.7 487.8,838.0 490.2,837.8 492.6,834.9 495.0,833.2 497.0,832.3 498.9,829.2 500.9,828.6 502.9,825.8 504.8,824.7 506.8,821.1 508.8,820.0 510.7,816.5 512.7,815.4 514.7,813.8 516.7,812.4 518.6,811.8 520.6,810.3 522.6,806.6 525.4,805.5 528.1,805.8 531.0,804.1 533.8,801.8 536.5,802.5 539.3,800.6 542.0,800.2 544.6,799.4 547.3,799.6 549.8,801.3 552.3,799.7 554.8,799.2 557.7,801.1 561.0,798.7 562.9,798.7 565.0,798.5 567.2,798.8 569.6,798.0 572.2,799.1 574.9,797.6 577.6,798.0 580.5,797.5 583.5,796.4 586.5,796.0 589.5,796.5 592.6,794.5 595.6,796.0 598.6,795.8 601.7,795.6 604.6,795.2 607.5,795.3 610.3,794.6 613.0,795.1 615.5,793.3 618.0,795.0 620.2,793.6 622.3,794.5 624.2,793.8 627.7,793.7 630.8,793.5 633.6,795.1 636.2,793.4 638.7,793.6 641.0,795.0 643.8,795.8 646.2,796.7 649.5,796.8 651.1,797.2 652.9,798.6 655.0,797.3 657.2,798.7 659.6,798.9 662.2,798.5 665.0,797.6 667.8,799.9 670.7,798.6 673.7,798.7 676.8,798.3 679.9,797.9 683.0,798.4 686.2,798.7 689.2,798.0 692.3,798.7 695.3,799.5 698.2,799.0 701.0,798.7 703.6,799.6 706.1,799.6 708.5,799.7 711.5,798.6 714.4,798.1 717.2,800.4 720.0,800.2 722.7,800.3 725.3,801.3 727.9,800.9 730.4,801.0 732.8,803.1 735.3,800.6 737.6,802.5 740.0,802.5 742.9,802.7 745.7,801.0 748.5,800.4 751.2,798.6 753.8,798.4 756.3,796.0 758.7,796.4 761.0,796.2 763.8,795.4 766.2,794.4 768.7,795.0 771.7,792.5 774.0,793.6 776.6,793.0 779.4,793.2 782.3,793.1 785.4,794.5 788.4,792.3 791.4,794.2 794.2,794.4 796.8,793.6 799.0,793.6 802.0,794.2 804.4,795.9 806.8,799.4 809.6,797.4 811.8,799.8 814.3,799.2 816.9,801.3 819.5,800.1 822.3,799.0 825.1,799.8 827.9,800.6 830.6,801.1 833.1,801.0 835.5,802.4 838.0,803.4 840.5,805.3 843.0,806.4 845.5,807.6 848.1,808.2 850.7,810.3 853.3,810.3 856.0,811.0 858.5,811.9 861.0,812.5 863.6,813.0 866.2,812.2 868.8,815.0 871.5,814.8 874.1,815.6 876.8,814.6 879.5,815.7 882.2,815.5 884.9,815.6 887.5,817.1 890.2,815.6 893.0,816.7 895.9,815.3 898.8,817.2 901.7,816.9 904.5,816.5 907.3,817.0 910.0,815.9 912.6,816.7 914.9,817.5 917.1,815.2 919.0,817.7 922.1,816.4 924.5,813.4 927.5,811.6 929.9,811.2 932.7,811.0 935.8,811.2 939.0,813.4 942.2,811.0 945.3,812.6 948.2,813.4 950.7,812.3 953.5,814.0 955.7,816.3 958.0,817.0 961.0,819.9 962.9,821.3 965.0,820.3 967.4,820.4 969.9,822.1 972.7,822.5 975.5,822.3 978.4,823.3 981.3,824.1 984.3,824.9 987.2,825.9 990.1,825.1 992.8,824.8 995.4,824.9 997.8,827.7 1000.0,826.2 1003.2,826.2 1006.3,828.0 1009.1,826.5 1011.8,826.9 1014.4,824.9 1016.8,824.8 1019.7,826.2 1022.2,829.0 1024.7,830.8 1027.4,831.9 1030.4,833.2 1033.5,831.7 1036.7,829.0 1040.0,829.8 1043.0,830.3 1046.1,829.9 1049.2,833.1 1052.2,833.1 1054.8,834.8 1057.1,835.0 1059.0,836.5 1060.9,840.0 1063.2,840.9 1066.0,841.8 1069.3,843.4 1072.7,844.6 1075.7,844.9 1078.0,844.0 1079.4,842.1 1080.1,840.0 1080.5,835.1 1081.0,832.3 1081.4,835.0 1081.9,835.2 1082.3,837.5 1082.6,841.2 1083.1,844.5 1083.5,850.5 1084.0,851.9 1084.6,853.8 1085.3,855.4 1086.9,853.6 1088.7,848.7 1090.6,847.0 1092.0,848.8 1093.4,852.4 1095.0,854.4 1096.9,857.3 1099.2,857.0 1101.9,856.3 1104.8,853.8 1107.4,851.1 1109.5,850.2 1110.5,847.9 1111.2,844.2 1111.7,840.9 1112.0,838.5 1112.2,835.9 1112.4,831.1 1112.5,829.3 1112.6,824.7 1112.8,822.4 1113.2,821.0 1113.7,820.8 1114.6,819.8 1115.5,823.7 1116.5,828.1 1117.6,829.5 1118.8,833.7 1120.0,835.4 1121.9,834.9 1124.0,832.1 1126.4,828.9 1128.8,830.1 1131.6,827.8 1134.4,828.3 1136.9,831.5 1138.7,832.9 1140.2,834.2 1141.5,838.9 1143.1,841.6 1145.3,843.7 1147.3,844.0 1149.5,844.3 1152.1,844.6 1154.8,846.3 1157.6,846.8 1160.4,847.0 1163.2,847.5 1165.9,849.3 1168.5,848.6 1171.0,850.0 1173.6,853.2 1176.2,852.5 1178.8,853.8 1181.3,856.4 1183.7,855.7 1185.9,859.6 1187.9,858.8 1189.6,860.5 1192.1,863.2 1194.0,866.5 1195.9,867.9 1197.4,867.9 1199.0,864.2 1200.5,861.8 1201.9,858.5 1203.2,856.0 1203.8,857.4 1204.2,858.2 1204.7,860.3 1205.1,863.2 1205.4,866.4 1205.7,869.8 1206.0,871.5 1206.2,876.9 1206.4,880.6 1206.6,886.4 1206.8,888.8 1207.0,892.8 1207.1,896.5 1207.3,900.3 1207.5,901.8 1207.7,905.0 1208.0,906.8 1208.2,908.1 1208.5,908.3 1208.9,907.5 1209.3,906.3 1209.7,902.9 1210.0,902.1 1210.4,897.5 1210.9,892.6 1211.4,890.5 1212.0,888.4 1212.7,885.1 1214.0,882.2 1215.4,878.0 1217.1,878.4 1219.0,874.8 1220.5,871.3 1222.2,870.2 1224.1,869.2 1226.1,866.0 1228.1,862.3 1230.1,861.3 1232.0,860.7 1233.8,861.6 1236.0,861.1 1238.0,863.8 1240.1,865.8 1242.1,868.4 1244.3,868.7 1246.7,867.8 1249.2,865.7 1251.8,863.8 1254.4,863.0 1257.0,861.0 1259.5,862.0 1262.2,862.3 1264.8,863.0 1267.3,864.1 1269.6,868.0 1271.0,869.0 1272.2,871.4 1273.3,875.2 1274.4,877.5 1275.4,879.7 1276.4,883.0 1277.4,886.2 1278.4,890.2 1279.5,890.1 1280.8,891.3 1282.2,893.3 1284.6,894.1 1287.3,893.2 1290.0,893.3 1292.6,891.6 1294.9,889.5 1296.9,887.5 1298.7,886.3 1300.3,883.5 1301.8,880.6 1303.3,876.6 1305.2,875.0 1306.9,870.6 1308.5,869.2 1309.2,872.8 1309.8,874.4 1310.2,877.4 1310.6,881.7 1311.0,885.7 1311.4,888.4 1312.0,891.6 1312.8,894.2 1313.8,895.4 1315.4,894.7 1317.3,892.1 1319.4,892.7 1321.6,887.6 1324.0,885.0 1326.4,883.7 1328.4,881.5 1330.5,880.2 1332.5,879.8 1334.7,877.2 1337.0,874.0 1339.4,872.9 1341.9,871.0 1344.6,870.6 1347.5,867.8 1349.7,867.1 1352.1,866.1 1354.7,867.4 1357.4,867.1 1360.3,867.2 1363.2,867.3 1366.2,865.7 1369.2,866.4 1372.3,865.9 1375.3,867.8 1378.3,867.5 1381.2,865.8 1384.0,867.2 1386.7,866.7 1389.2,866.4 1391.6,866.4 1393.8,864.9 1396.7,863.9 1399.3,862.3 1401.6,860.7 1403.9,858.7 1406.0,858.7 1408.2,856.7 1410.4,854.7 1412.8,852.5 1415.5,854.5 1418.2,852.2 1421.0,851.9 1423.7,851.8 1426.5,852.2 1429.2,850.1 1431.8,847.7 1434.3,848.2 1436.8,847.3 1439.3,845.6 1441.7,844.9 1444.0,843.1 1446.3,841.9 1448.6,840.4 1451.4,839.1 1454.2,837.3 1456.8,836.0 1459.3,834.3 1461.6,832.4 1463.5,830.6 1465.2,828.4 1466.8,826.5 1468.3,824.3 1469.7,821.5 1470.6,819.8 1471.4,817.5 1472.1,814.8 1472.8,812.6 1473.5,809.7 1474.1,807.0 1474.7,804.3 1475.3,800.9 1475.9,798.0 1476.5,795.2 1477.1,792.1 1477.8,788.9 1478.3,786.9 1478.9,784.4 1479.4,781.8 1479.9,779.1 1480.5,776.5 1481.0,773.4 1481.5,770.9 1482.1,767.9 1482.6,765.1 1483.1,762.3 1483.7,760.0 1484.2,756.6 1484.7,754.4 1485.2,752.1 1485.8,749.5 1486.3,747.2 1486.8,745.4 1487.3,743.0 1488.1,739.9 1488.8,736.9 1489.5,734.0 1490.3,731.4 1491.3,729.2 1492.7,727.2 1494.6,725.2 1496.9,724.2 1499.5,723.0 1502.0,721.9 1504.3,720.4 1506.2,719.2 1507.5,716.9 1508.5,714.5 1509.3,711.9 1509.9,709.5 1510.4,706.2 1511.0,703.0 1511.6,699.9 1512.1,697.7 1512.5,695.4 1512.9,692.3 1513.3,690.0 1513.7,687.1 1514.1,684.3 1514.5,681.0 1514.9,678.4 1515.3,675.4 1515.7,672.0 1516.1,669.2 1516.5,666.6 1517.0,664.0 1517.4,661.2 1517.9,659.1 1518.4,656.5 1519.2,653.9 1520.0,651.0 1520.8,648.6 1521.7,646.1 1522.7,644.0 1523.8,641.8 1525.9,639.7 1528.2,637.0 1530.5,635.1 1531.9,632.6 1533.2,630.3 1534.6,626.7 1535.9,624.3 1537.3,622.3 1538.6,621.7 1540.0,622.2 1541.4,623.6 1542.8,626.1 1544.2,629.2 1545.5,632.2 1546.8,634.9 1547.6,636.8 1548.3,639.1 1549.0,641.8 1549.6,644.4 1550.2,647.1 1550.8,649.9 1551.4,652.9 1552.0,656.0 1552.6,658.8 1553.3,661.2 1553.9,664.0 1554.6,666.2 1555.4,668.6 1556.2,670.5 1557.7,673.5 1559.3,676.5 1561.0,678.8 1562.7,680.5 1564.3,681.3 1566.6,679.9 1568.9,677.5 1571.0,674.2 1571.8,672.7 1572.6,670.6 1573.2,668.1 1573.8,665.8 1574.4,663.3 1574.9,660.5 1575.4,657.6 1575.9,654.5 1576.3,651.9 1576.8,648.7 1577.3,646.0 1577.8,643.1 1578.3,640.6 1578.7,638.2 1579.2,635.1 1579.6,632.3 1580.0,629.1 1580.4,626.5 1580.8,623.8 1581.3,620.8 1581.7,618.2 1582.1,615.2 1582.6,612.7 1583.0,609.9 1583.5,607.5 1584.0,604.9 1584.6,602.9 1585.4,599.5 1586.3,596.4 1587.1,594.0 1588.0,590.9 1589.0,588.4 1590.1,586.4 1591.4,583.8 1593.0,581.7 1594.8,579.7 1596.8,577.9 1598.7,576.5 1600.6,574.1 1602.2,571.9 1603.2,569.6 1604.1,567.2 1604.9,564.9 1605.6,562.4 1606.3,560.2 1606.9,556.8 1607.5,554.2 1608.1,551.0 1608.6,548.6 1609.2,545.7 1609.7,543.1 1610.3,540.5 1610.9,537.7 1611.6,535.1 1612.2,532.5 1612.7,530.2 1613.3,527.4 1613.8,524.8 1614.4,521.9 1614.8,519.6 1615.3,516.5 1615.7,513.3 1616.0,511.4 1616.2,508.8 1616.4,506.1 1616.6,503.5 1616.8,500.5 1617.0,497.6 1617.1,495.2 1617.2,492.0 1617.3,489.5 1617.4,486.5 1617.5,483.7 1617.6,480.7 1617.7,478.1 1617.9,475.4 1618.0,472.6 1618.1,470.0 1618.2,467.5 1618.4,464.9 1618.6,461.6 1618.8,458.7 1618.9,455.1 1619.1,451.6 1619.3,448.0 1619.4,444.8 1619.6,442.3 1619.8,439.7 1620.1,437.3 1620.3,435.7 1620.6,433.9 1621.0,433.9 1621.7,434.5 1622.5,437.0 1623.4,440.9 1624.3,444.9 1625.1,448.4 1625.6,450.5 1626.1,452.9 1626.5,455.6 1627.0,458.4 1627.5,461.3 1628.0,463.7 1628.4,466.3 1628.9,469.1 1629.3,472.2 1629.7,475.2 1630.1,477.7 1630.5,481.0 1630.8,483.4 1631.1,486.2 1631.3,488.5 1631.5,491.6 1631.7,494.5 1631.9,497.3 1632.1,500.1 1632.3,502.7 1632.5,505.6 1632.7,508.2 1632.9,511.2 1633.1,513.8 1633.4,516.8 1633.6,519.5 1633.9,522.0 1634.2,524.8 1634.6,526.8 1635.1,529.9 1635.6,533.3 1636.2,535.9 1636.7,538.9 1637.3,541.2 1637.9,544.6 1638.6,546.9 1639.3,549.5 1640.0,552.3 1640.7,554.5 1641.4,556.5 1642.4,560.0 1643.3,562.6 1644.3,565.6 1645.4,568.0 1646.6,570.1 1648.1,571.5 1650.6,572.4 1653.5,572.2 1656.2,572.0 1658.3,570.2 1660.3,568.0 1662.3,565.8 1664.3,565.2 1666.6,565.5 1668.8,566.9 1671.0,568.9 1672.4,571.0 1673.7,573.0 1675.0,576.0 1676.3,579.0 1677.6,581.7 1679.0,583.8 1680.5,584.7 1683.0,585.4 1685.7,584.5 1688.6,583.7 1691.1,583.7 1693.9,583.5 1696.8,583.4 1699.6,583.1 1702.2,582.5 1704.6,580.7 1706.9,578.3 1709.0,575.6 1711.0,573.9 1713.0,573.0 1715.0,574.2 1716.8,577.4 1718.6,580.1 1721.0,582.3 1723.3,582.9 1726.0,582.3 1728.9,581.6 1731.9,580.9 1734.7,580.6 1737.3,581.1 1739.5,582.5 1741.7,584.5 1743.7,587.2 1745.7,589.7 1747.6,592.4 1749.3,594.4 1751.0,595.0 1753.3,594.4 1755.4,591.9 1757.4,589.0 1758.4,587.3 1759.4,584.5 1760.3,582.0 1761.3,578.3 1762.2,575.0 1763.2,571.1 1764.1,567.9 1765.1,564.4 1766.0,561.7 1766.9,558.5 1767.8,556.9 1768.7,555.6 1769.5,555.1 1770.8,556.0 1772.1,558.2 1773.4,561.1 1774.6,564.8 1775.9,567.7 1777.0,570.4 1778.1,573.8 1779.3,577.2 1780.4,580.5 1781.5,583.6 1782.6,585.3 1783.6,585.7 1784.7,585.1 1785.7,583.0 1786.6,580.6 1787.6,576.7 1788.5,573.0 1789.4,569.8 1790.0,566.9 1790.5,564.9 1791.0,561.7 1791.4,558.6 1791.8,555.9 1792.3,552.6 1792.8,549.6 1793.4,547.2 1794.2,545.0 1795.1,542.4 1796.2,540.7 1798.2,538.9 1800.6,538.0 1803.1,537.0 1805.6,536.3 1807.8,534.7 1809.4,533.0 1810.9,531.2 1812.3,528.5 1813.6,526.6 1814.9,524.3 1816.2,521.5 1817.5,519.2 1818.9,517.1 1820.3,515.0 1821.7,512.7 1823.2,510.9 1824.5,508.7 1825.9,506.4 1827.2,503.9 1828.3,501.2 1829.3,498.4 1830.3,495.1 1831.3,492.3 1832.2,488.5 1833.2,485.7 1834.1,483.1 1835.1,480.6 1836.0,479.2 1836.9,478.7 1838.4,479.7 1839.8,481.6 1841.2,485.0 1842.7,488.4 1843.6,490.3 1844.4,492.2 1845.3,494.9 1846.2,497.3 1847.1,499.6 1847.9,502.2 1848.8,505.4 1849.7,507.7 1850.6,510.1 1851.5,513.1 1852.4,515.3 1853.3,518.2 1854.2,521.2 1855.0,524.0 1855.8,527.0 1856.6,530.6 1857.5,532.9 1858.5,535.5 1859.5,537.8 1860.7,539.6 1862.1,540.7 1864.9,540.8 1868.0,539.9 1871.1,538.4 1873.7,538.6 1875.0,540.2 1875.9,542.3 1876.6,544.8 1877.1,547.8 1877.7,550.7 1878.5,553.7 1879.6,556.1 1881.0,558.4 1882.6,561.1 1884.4,563.5 1886.3,565.6 1888.2,567.8 1890.1,570.1 1892.0,572.5 1893.8,574.3 1896.0,576.8 1898.1,579.4 1900.3,581.7 1902.5,584.0 1904.8,585.2 1907.5,586.4 1910.5,586.8 1913.3,586.7 1915.8,586.4 1918.3,585.0 1920.4,581.8 1922.2,579.1 1922.8,577.4 1923.2,575.0 1923.6,572.1 1924.0,569.2 1924.2,566.4 1924.5,562.4 1924.6,559.4 1924.8,555.3 1924.9,551.9 1925.0,547.1 1925.1,544.9 1925.2,541.6 1925.2,538.1 1925.4,536.4 1925.5,533.8 1925.6,532.0 1925.8,531.8 1926.1,531.5 1926.5,532.0 1927.0,533.7 1927.5,536.5 1928.0,538.8 1928.5,542.8 1929.0,546.9 1929.5,549.9 1930.0,552.3 1930.7,555.9 1931.3,559.7 1932.0,562.5 1932.9,564.0 1933.8,562.4 1934.9,561.8 1936.1,558.6 1937.4,554.3 1938.6,551.7 1939.7,548.5 1940.4,545.9 1941.0,543.4 1941.5,540.3 1941.9,537.0 1942.4,532.8 1942.8,529.3 1943.3,526.5 1943.9,524.1 1944.6,520.4 1945.4,518.5 1946.3,516.6 1947.4,515.4 1950.4,514.3 1953.8,515.8 1957.1,515.4 1959.1,514.5 1961.1,512.4 1962.9,510.1 1964.8,508.2 1966.8,506.2 1969.1,503.9 1971.5,501.2 1974.0,499.4 1976.3,497.8 1978.4,496.4 1983.0,495.4 1983.8,493.6 1984.2,490.5 1984.3,488.3 1984.4,484.4 1984.4,480.8 1984.7,477.2 1985.2,473.7 1986.2,471.1 1988.0,469.9 1990.3,468.4 1992.9,467.3 1995.5,465.2 1998.0,464.0 2000.5,462.1 2003.0,460.7 2005.5,458.4 2008.0,456.6 2010.4,454.5 2012.7,453.2 2015.0,452.0 2017.2,449.6 2019.3,448.0 2021.0,446.5 2022.1,443.5 2022.9,440.6 2023.4,438.4 2024.0,436.3 2024.7,433.4 2025.7,430.7 2027.2,428.4 2028.9,426.8 2030.8,423.7 2032.8,422.6 2034.7,420.0 2036.4,418.6 2038.6,415.5 2040.7,413.7 2042.5,413.6 2043.8,409.2 2044.8,405.7 2045.6,405.3 2045.9,405.0 2046.1,405.9 2046.2,407.6 2046.3,410.0 2046.3,413.8 2046.3,415.0 2046.2,419.5 2046.1,421.9 2046.1,426.9 2046.0,430.0 2045.9,434.5 2045.8,437.7 2045.8,442.0 2045.7,445.3 2045.7,448.2 2045.8,451.1 2045.9,452.9 2046.1,454.8 2046.3,455.9 2046.6,457.3 2047.8,457.2 2048.1,456.4 2048.3,454.8 2048.5,454.1 2048.6,452.7 2048.7,450.8 2048.8,447.6 2048.8,445.8 2048.8,441.8 2048.7,439.2 2048.7,435.7 2048.6,433.1 2048.5,429.0 2048.4,425.7 2048.4,423.2 2048.3,419.8 2048.2,414.7 2048.2,413.0 2048.1,409.6 2048.1,406.6 2048.1,402.9 2048.2,401.3 2048.3,398.4 2048.4,395.1 2048.6,392.7 2049.2,390.0 2049.8,388.0 2050.5,387.2 2051.3,382.0 2052.0,380.3 2052.6,377.6 2053.1,375.1 2053.7,372.7 2054.2,370.3 2054.8,367.1 2055.4,365.5 2056.0,362.5 2056.8,359.8 2057.6,357.0 2058.4,352.9 2059.2,351.7 2060.0,347.5 2060.8,345.0 2061.6,341.7 2062.3,338.4 2063.0,336.0 2063.8,331.5 2064.6,329.3 2065.5,326.0 2068.0,321.6 2068.7,323.5 2069.3,326.9 2069.9,330.4 2070.5,332.6 2071.0,335.3 2071.4,334.3 2071.7,333.0 2072.0,329.9 2072.3,325.3 2072.6,320.8 2072.9,316.8 2073.3,312.9 2073.6,310.7 2074.0,309.5 2074.6,311.4 2075.3,315.4 2076.1,320.8 2077.0,323.0 2080.0,316.3 2080.8,315.3 2081.5,310.4 2082.0,307.1 2082.5,305.0 2083.0,303.8 2083.3,306.7 2083.6,307.0 2083.8,309.5 2084.0,313.0 2084.2,318.3 2084.4,321.7 2084.6,325.7 2084.7,328.3 2084.9,331.9 2085.0,332.3 2085.1,331.9 2085.3,328.8 2085.4,326.0 2085.6,321.9 2085.7,317.4 2085.8,314.2 2085.9,309.0 2085.9,306.5 2086.0,304.0 2086.0,304.0"/></g><rect x="168" y="17" width="7" height="1456" fill="#000"/><rect x="168" y="1465" width="1977" height="8" fill="#000"/><rect x="450.0" y="1436" width="6" height="30" fill="#000"/><rect x="731.4" y="1436" width="6" height="30" fill="#000"/><rect x="1012.9" y="1436" width="6" height="30" fill="#000"/><rect x="1294.4" y="1436" width="6" height="30" fill="#000"/><rect x="1575.9" y="1436" width="6" height="30" fill="#000"/><rect x="1857.3" y="1436" width="6" height="30" fill="#000"/><rect x="2138.8" y="1436" width="6" height="30" fill="#000"/><g font-family="&quot;Liberation Sans&quot;, Arial, sans-serif" font-size="65" text-anchor="middle" fill="#000"><text transform="translate(170.7,1550.5) scale(0.966,1)">4000</text><text transform="translate(452.2,1550.5) scale(0.966,1)">3500</text><text transform="translate(733.6,1550.5) scale(0.966,1)">3000</text><text transform="translate(1015.1,1550.5) scale(0.966,1)">2500</text><text transform="translate(1296.6,1550.5) scale(0.966,1)">2000</text><text transform="translate(1578.1,1550.5) scale(0.966,1)">1500</text><text transform="translate(1859.5,1550.5) scale(0.966,1)">1000</text><text transform="translate(2141.0,1550.5) scale(0.966,1)">500</text></g><rect x="280.8" y="66.6" width="325.4" height="382.2" fill="none" stroke="#000" stroke-width="2.4"/><line x1="305.8" y1="117.8" x2="481.2" y2="117.8" stroke="#000000" stroke-width="7.6" stroke-linecap="round"/><line x1="305.8" y1="213.9" x2="481.2" y2="213.9" stroke="#14E614" stroke-width="7.6" stroke-linecap="round"/><line x1="305.8" y1="310" x2="481.2" y2="310" stroke="#0505D2" stroke-width="7.6" stroke-linecap="round"/><line x1="305.8" y1="406.1" x2="481.2" y2="406.1" stroke="#E80808" stroke-width="7.6" stroke-linecap="round"/><g font-family="&quot;Liberation Sans&quot;, Arial, sans-serif" font-size="81" fill="#000"><text transform="translate(503.2,145.2) scale(0.935,1)">T0</text><text transform="translate(503.2,240.9) scale(0.935,1)">T1</text><text transform="translate(503.2,336.8) scale(0.935,1)">T2</text><text transform="translate(503.2,432.5) scale(0.935,1)">T3</text></g><text transform="translate(84.8,958.8) rotate(-90)" font-family="&quot;Liberation Serif&quot;, &quot;Times New Roman&quot;, serif" font-weight="bold" font-size="84.5" fill="#000">Absorbance</text><g font-family="&quot;Liberation Serif&quot;, &quot;Times New Roman&quot;, serif" font-weight="bold" fill="#000"><text x="813" y="1684.2" font-size="85.5">Wavenumber / (cm</text><text x="1509" y="1641.7" font-size="49">-1</text><text x="1552" y="1683" font-size="82">)</text></g></svg></body></html>
